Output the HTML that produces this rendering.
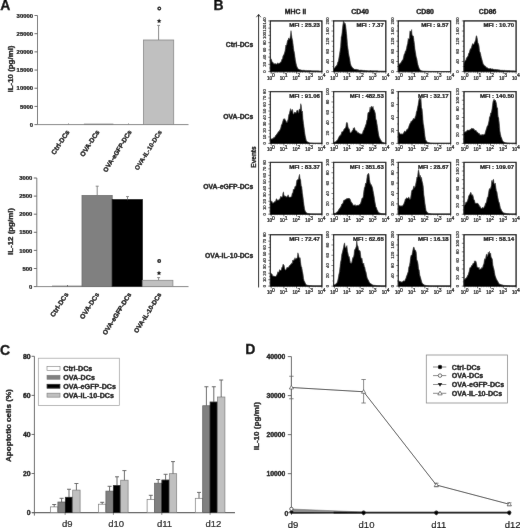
<!DOCTYPE html>
<html><head><meta charset="utf-8"><title>Figure</title>
<style>
html,body{margin:0;padding:0;background:#fff;}
body{width:520px;height:528px;overflow:hidden;font-family:"Liberation Sans",sans-serif;}
svg{display:block;}
svg text{font-family:"Liberation Sans",sans-serif;}
</style></head><body>
<svg width="520" height="528" viewBox="0 0 520 528">
<defs><filter id="soft" x="0" y="0" width="520" height="528" filterUnits="userSpaceOnUse"><feConvolveMatrix order="3" kernelMatrix="0.006 0.034 0.006 0.034 0.84 0.034 0.006 0.034 0.006" edgeMode="duplicate" preserveAlpha="true"/></filter></defs>
<rect x="0" y="0" width="520" height="528" fill="#fff"/>
<g filter="url(#soft)">
<rect x="0" y="0" width="520" height="528" fill="#fff"/>
<text x="0.20" y="10.30" font-size="14" font-weight="bold" text-anchor="start" fill="#000" stroke="#000" stroke-width="0.3" >A</text>
<line x1="37.50" y1="15.50" x2="37.50" y2="124.60" stroke="#6e6e6e" stroke-width="0.95" />
<line x1="37.50" y1="124.60" x2="188.50" y2="124.60" stroke="#7c7c7c" stroke-width="0.95" />
<line x1="34.50" y1="124.60" x2="37.50" y2="124.60" stroke="#5c5c5c" stroke-width="0.95" />
<text x="33.00" y="126.70" font-size="5.9" font-weight="bold" text-anchor="end" fill="#000" stroke="#000" stroke-width="0.22" >0</text>
<line x1="34.50" y1="106.42" x2="37.50" y2="106.42" stroke="#5c5c5c" stroke-width="0.95" />
<text x="33.00" y="108.52" font-size="5.9" font-weight="bold" text-anchor="end" fill="#000" stroke="#000" stroke-width="0.22" >5000</text>
<line x1="34.50" y1="88.23" x2="37.50" y2="88.23" stroke="#5c5c5c" stroke-width="0.95" />
<text x="33.00" y="90.33" font-size="5.9" font-weight="bold" text-anchor="end" fill="#000" stroke="#000" stroke-width="0.22" >10000</text>
<line x1="34.50" y1="70.05" x2="37.50" y2="70.05" stroke="#5c5c5c" stroke-width="0.95" />
<text x="33.00" y="72.15" font-size="5.9" font-weight="bold" text-anchor="end" fill="#000" stroke="#000" stroke-width="0.22" >15000</text>
<line x1="34.50" y1="51.87" x2="37.50" y2="51.87" stroke="#5c5c5c" stroke-width="0.95" />
<text x="33.00" y="53.97" font-size="5.9" font-weight="bold" text-anchor="end" fill="#000" stroke="#000" stroke-width="0.22" >20000</text>
<line x1="34.50" y1="33.68" x2="37.50" y2="33.68" stroke="#5c5c5c" stroke-width="0.95" />
<text x="33.00" y="35.78" font-size="5.9" font-weight="bold" text-anchor="end" fill="#000" stroke="#000" stroke-width="0.22" >25000</text>
<line x1="34.50" y1="15.50" x2="37.50" y2="15.50" stroke="#5c5c5c" stroke-width="0.95" />
<text x="33.00" y="17.60" font-size="5.9" font-weight="bold" text-anchor="end" fill="#000" stroke="#000" stroke-width="0.22" >30000</text>
<text x="13.30" y="69.00" font-size="7.9" font-weight="bold" text-anchor="middle" fill="#000" stroke="#000" stroke-width="0.3" transform="rotate(-90 13.30 69.00)" >IL-10 (pg/ml)</text>
<line x1="68.50" y1="123.40" x2="68.50" y2="124.60" stroke="#808080" stroke-width="0.9" />
<rect x="84.00" y="123.90" width="29.50" height="0.70" fill="#808080" stroke="#777" stroke-width="0.3" />
<line x1="128.50" y1="123.40" x2="128.50" y2="124.60" stroke="#808080" stroke-width="0.9" />
<rect x="143.40" y="40.00" width="30.30" height="84.60" fill="#c0c0c0" stroke="#868686" stroke-width="0.8" />
<line x1="158.60" y1="25.40" x2="158.60" y2="40.00" stroke="#808080" stroke-width="0.95" />
<line x1="157.20" y1="25.40" x2="160.00" y2="25.40" stroke="#808080" stroke-width="0.95" />
<polygon points="159.10,18.60 159.78,20.17 161.48,20.33 160.19,21.46 160.57,23.12 159.10,22.25 157.63,23.12 158.01,21.46 156.72,20.33 158.42,20.17" fill="#000"/>
<circle cx="159.3" cy="8.5" r="1.35" fill="none" stroke="#000" stroke-width="1.25"/>
<text x="69.90" y="132.00" font-size="6.8" font-weight="bold" text-anchor="end" fill="#000" stroke="#000" stroke-width="0.3" transform="rotate(-57 69.90 132.00)" >Ctrl-DCs</text>
<text x="99.90" y="132.00" font-size="6.8" font-weight="bold" text-anchor="end" fill="#000" stroke="#000" stroke-width="0.3" transform="rotate(-57 99.90 132.00)" >OVA-DCs</text>
<text x="132.00" y="132.00" font-size="6.5" font-weight="bold" text-anchor="end" fill="#000" stroke="#000" stroke-width="0.3" transform="rotate(-58 132.00 132.00)" >OVA-eGFP-DCs</text>
<text x="162.20" y="132.00" font-size="6.45" font-weight="bold" text-anchor="end" fill="#000" stroke="#000" stroke-width="0.22" transform="rotate(-58 162.20 132.00)" >OVA-IL-10-DCs</text>
<line x1="36.80" y1="178.00" x2="36.80" y2="286.60" stroke="#6e6e6e" stroke-width="0.95" />
<line x1="36.80" y1="286.60" x2="188.50" y2="286.60" stroke="#7c7c7c" stroke-width="0.95" />
<line x1="33.80" y1="286.60" x2="36.80" y2="286.60" stroke="#5c5c5c" stroke-width="0.95" />
<text x="32.30" y="288.70" font-size="5.9" font-weight="bold" text-anchor="end" fill="#000" stroke="#000" stroke-width="0.22" >0</text>
<line x1="33.80" y1="268.50" x2="36.80" y2="268.50" stroke="#5c5c5c" stroke-width="0.95" />
<text x="32.30" y="270.60" font-size="5.9" font-weight="bold" text-anchor="end" fill="#000" stroke="#000" stroke-width="0.22" >500</text>
<line x1="33.80" y1="250.40" x2="36.80" y2="250.40" stroke="#5c5c5c" stroke-width="0.95" />
<text x="32.30" y="252.50" font-size="5.9" font-weight="bold" text-anchor="end" fill="#000" stroke="#000" stroke-width="0.22" >1000</text>
<line x1="33.80" y1="232.30" x2="36.80" y2="232.30" stroke="#5c5c5c" stroke-width="0.95" />
<text x="32.30" y="234.40" font-size="5.9" font-weight="bold" text-anchor="end" fill="#000" stroke="#000" stroke-width="0.22" >1500</text>
<line x1="33.80" y1="214.20" x2="36.80" y2="214.20" stroke="#5c5c5c" stroke-width="0.95" />
<text x="32.30" y="216.30" font-size="5.9" font-weight="bold" text-anchor="end" fill="#000" stroke="#000" stroke-width="0.22" >2000</text>
<line x1="33.80" y1="196.10" x2="36.80" y2="196.10" stroke="#5c5c5c" stroke-width="0.95" />
<text x="32.30" y="198.20" font-size="5.9" font-weight="bold" text-anchor="end" fill="#000" stroke="#000" stroke-width="0.22" >2500</text>
<line x1="33.80" y1="178.00" x2="36.80" y2="178.00" stroke="#5c5c5c" stroke-width="0.95" />
<text x="32.30" y="180.10" font-size="5.9" font-weight="bold" text-anchor="end" fill="#000" stroke="#000" stroke-width="0.22" >3000</text>
<text x="13.30" y="231.50" font-size="7.9" font-weight="bold" text-anchor="middle" fill="#000" stroke="#000" stroke-width="0.3" transform="rotate(-90 13.30 231.50)" >IL-12 (pg/ml)</text>
<line x1="52.00" y1="286.00" x2="82.00" y2="286.00" stroke="#5c5c5c" stroke-width="0.6" />
<line x1="67.50" y1="285.00" x2="67.50" y2="286.60" stroke="#5c5c5c" stroke-width="0.95" />
<rect x="82.00" y="195.50" width="30.20" height="91.10" fill="#808080" stroke="#686868" stroke-width="0.8" />
<rect x="112.20" y="199.50" width="30.20" height="87.10" fill="#000" stroke="#000" stroke-width="0.8" />
<rect x="142.60" y="280.30" width="30.30" height="6.30" fill="#c0c0c0" stroke="#868686" stroke-width="0.8" />
<line x1="97.20" y1="186.20" x2="97.20" y2="195.50" stroke="#808080" stroke-width="0.95" />
<line x1="95.70" y1="186.20" x2="98.70" y2="186.20" stroke="#808080" stroke-width="0.95" />
<line x1="127.50" y1="196.60" x2="127.50" y2="199.50" stroke="#808080" stroke-width="0.95" />
<line x1="126.00" y1="196.60" x2="129.00" y2="196.60" stroke="#808080" stroke-width="0.95" />
<line x1="158.60" y1="277.60" x2="158.60" y2="280.00" stroke="#808080" stroke-width="0.95" />
<line x1="157.10" y1="277.60" x2="160.10" y2="277.60" stroke="#808080" stroke-width="0.95" />
<polygon points="159.00,270.70 159.68,272.27 161.38,272.43 160.09,273.56 160.47,275.22 159.00,274.35 157.53,275.22 157.91,273.56 156.62,272.43 158.32,272.27" fill="#000"/>
<circle cx="159.2" cy="260.9" r="1.35" fill="none" stroke="#000" stroke-width="1.25"/>
<text x="68.80" y="294.40" font-size="6.8" font-weight="bold" text-anchor="end" fill="#000" stroke="#000" stroke-width="0.3" transform="rotate(-57 68.80 294.40)" >Ctrl-DCs</text>
<text x="99.70" y="294.40" font-size="6.8" font-weight="bold" text-anchor="end" fill="#000" stroke="#000" stroke-width="0.3" transform="rotate(-57 99.70 294.40)" >OVA-DCs</text>
<text x="131.80" y="294.40" font-size="6.6" font-weight="bold" text-anchor="end" fill="#000" stroke="#000" stroke-width="0.3" transform="rotate(-58 131.80 294.40)" >OVA-eGFP-DCs</text>
<text x="161.80" y="294.40" font-size="6.5" font-weight="bold" text-anchor="end" fill="#000" stroke="#000" stroke-width="0.3" transform="rotate(-58 161.80 294.40)" >OVA-IL-10-DCs</text>
<text x="213.40" y="10.30" font-size="14" font-weight="bold" text-anchor="start" fill="#000" stroke="#000" stroke-width="0.3" >B</text>
<text x="295.50" y="14.20" font-size="6.9" font-weight="bold" text-anchor="middle" fill="#000" stroke="#000" stroke-width="0.3" >MHC II</text>
<text x="360.00" y="14.20" font-size="6.9" font-weight="bold" text-anchor="middle" fill="#000" stroke="#000" stroke-width="0.3" >CD40</text>
<text x="425.00" y="14.20" font-size="6.9" font-weight="bold" text-anchor="middle" fill="#000" stroke="#000" stroke-width="0.3" >CD80</text>
<text x="487.50" y="14.20" font-size="6.9" font-weight="bold" text-anchor="middle" fill="#000" stroke="#000" stroke-width="0.3" >CD86</text>
<text x="253.30" y="47.00" font-size="6.8" font-weight="bold" text-anchor="end" fill="#000" stroke="#000" stroke-width="0.3" >Ctrl-DCs</text>
<text x="253.30" y="118.70" font-size="6.8" font-weight="bold" text-anchor="end" fill="#000" stroke="#000" stroke-width="0.3" >OVA-DCs</text>
<text x="253.30" y="189.40" font-size="6.8" font-weight="bold" text-anchor="end" fill="#000" stroke="#000" stroke-width="0.3" >OVA-eGFP-DCs</text>
<text x="253.30" y="257.50" font-size="6.8" font-weight="bold" text-anchor="end" fill="#000" stroke="#000" stroke-width="0.3" >OVA-IL-10-DCs</text>
<line x1="258.60" y1="14.60" x2="258.60" y2="287.40" stroke="#000" stroke-width="1.0" />
<path d="M256.4 17.2 L258.6 14.3 L260.8 17.2" fill="none" stroke="#111" stroke-width="0.8"/>
<text x="255.80" y="157.00" font-size="6.5" font-weight="bold" text-anchor="middle" fill="#000" stroke="#000" stroke-width="0.3" transform="rotate(-90 255.80 157.00)" >Events</text>
<path d="M270.40 71.60 L270.40 56.95 L270.97 58.97 L271.54 59.56 L272.12 61.99 L272.69 61.88 L273.26 62.84 L273.83 63.95 L274.41 63.50 L274.98 64.10 L275.55 63.51 L276.12 63.97 L276.69 63.90 L277.27 63.39 L277.84 62.77 L278.41 63.72 L278.98 63.54 L279.56 62.91 L280.13 62.40 L280.70 62.08 L281.27 61.45 L281.84 59.25 L282.42 59.36 L282.99 55.62 L283.56 55.31 L284.13 53.86 L284.71 51.98 L285.28 49.28 L285.85 45.09 L286.42 46.07 L286.99 42.40 L287.57 40.26 L288.14 40.08 L288.71 37.86 L289.28 39.43 L289.86 38.28 L290.43 35.67 L291.00 30.63 L291.57 34.81 L292.14 38.26 L292.72 40.85 L293.29 45.60 L293.86 50.15 L294.43 52.41 L295.01 56.75 L295.58 60.99 L296.15 63.55 L296.72 65.89 L297.29 67.22 L297.87 68.55 L298.44 69.04 L299.01 69.03 L299.58 69.64 L300.16 69.81 L300.73 69.82 L301.30 70.06 L301.87 70.04 L302.44 70.22 L303.02 70.13 L303.59 70.18 L304.16 70.30 L304.73 70.28 L305.31 70.42 L305.88 70.38 L306.45 70.42 L307.02 70.46 L307.59 70.51 L308.17 70.46 L308.74 70.48 L309.31 70.59 L309.88 70.58 L310.46 70.59 L311.03 70.62 L311.60 70.65 L312.17 70.66 L312.74 70.68 L313.32 70.70 L313.89 70.72 L314.46 70.73 L315.03 70.75 L315.61 70.77 L316.18 70.79 L316.75 70.81 L317.32 70.82 L317.89 70.84 L318.47 70.86 L319.04 70.88 L319.61 70.89 L320.18 70.91 L320.76 70.93 L321.33 70.95 L321.90 70.96 L321.90 71.60 Z" fill="#000" stroke="#000" stroke-width="0.4" stroke-linejoin="round"/>
<rect x="270.40" y="20.90" width="51.50" height="50.70" fill="none" stroke="#000" stroke-width="1.25" />
<line x1="271.20" y1="71.60" x2="271.20" y2="73.80" stroke="#000" stroke-width="0.6" />
<text x="271.00" y="79.50" font-size="4.5" text-anchor="middle" fill="#000" stroke="#000" stroke-width="0.22">10<tspan dy="-2.4" font-size="5">0</tspan></text>
<line x1="283.88" y1="71.60" x2="283.88" y2="73.80" stroke="#000" stroke-width="0.6" />
<text x="283.68" y="79.50" font-size="4.5" text-anchor="middle" fill="#000" stroke="#000" stroke-width="0.22">10<tspan dy="-2.4" font-size="5">1</tspan></text>
<line x1="296.55" y1="71.60" x2="296.55" y2="73.80" stroke="#000" stroke-width="0.6" />
<text x="296.35" y="79.50" font-size="4.5" text-anchor="middle" fill="#000" stroke="#000" stroke-width="0.22">10<tspan dy="-2.4" font-size="5">2</tspan></text>
<line x1="309.23" y1="71.60" x2="309.23" y2="73.80" stroke="#000" stroke-width="0.6" />
<text x="309.03" y="79.50" font-size="4.5" text-anchor="middle" fill="#000" stroke="#000" stroke-width="0.22">10<tspan dy="-2.4" font-size="5">3</tspan></text>
<line x1="321.90" y1="71.60" x2="321.90" y2="73.80" stroke="#000" stroke-width="0.6" />
<text x="321.70" y="79.50" font-size="4.5" text-anchor="middle" fill="#000" stroke="#000" stroke-width="0.22">10<tspan dy="-2.4" font-size="5">4</tspan></text>
<line x1="275.02" y1="71.60" x2="275.02" y2="72.80" stroke="#000" stroke-width="0.35" />
<line x1="277.25" y1="71.60" x2="277.25" y2="72.80" stroke="#000" stroke-width="0.35" />
<line x1="280.06" y1="71.60" x2="280.06" y2="72.80" stroke="#000" stroke-width="0.35" />
<line x1="281.91" y1="71.60" x2="281.91" y2="72.80" stroke="#000" stroke-width="0.35" />
<line x1="287.69" y1="71.60" x2="287.69" y2="72.80" stroke="#000" stroke-width="0.35" />
<line x1="289.92" y1="71.60" x2="289.92" y2="72.80" stroke="#000" stroke-width="0.35" />
<line x1="292.73" y1="71.60" x2="292.73" y2="72.80" stroke="#000" stroke-width="0.35" />
<line x1="294.59" y1="71.60" x2="294.59" y2="72.80" stroke="#000" stroke-width="0.35" />
<line x1="300.37" y1="71.60" x2="300.37" y2="72.80" stroke="#000" stroke-width="0.35" />
<line x1="302.60" y1="71.60" x2="302.60" y2="72.80" stroke="#000" stroke-width="0.35" />
<line x1="305.41" y1="71.60" x2="305.41" y2="72.80" stroke="#000" stroke-width="0.35" />
<line x1="307.26" y1="71.60" x2="307.26" y2="72.80" stroke="#000" stroke-width="0.35" />
<line x1="313.04" y1="71.60" x2="313.04" y2="72.80" stroke="#000" stroke-width="0.35" />
<line x1="315.27" y1="71.60" x2="315.27" y2="72.80" stroke="#000" stroke-width="0.35" />
<line x1="318.08" y1="71.60" x2="318.08" y2="72.80" stroke="#000" stroke-width="0.35" />
<line x1="319.94" y1="71.60" x2="319.94" y2="72.80" stroke="#000" stroke-width="0.35" />
<line x1="268.20" y1="71.60" x2="270.40" y2="71.60" stroke="#000" stroke-width="0.5" />
<text x="265.70" y="71.60" font-size="4.3" fill="#000" stroke="#000" stroke-width="0.15" text-anchor="middle" transform="rotate(-90 265.70 71.60)">0</text>
<line x1="268.20" y1="64.36" x2="270.40" y2="64.36" stroke="#000" stroke-width="0.5" />
<text x="265.70" y="64.36" font-size="4.3" fill="#000" stroke="#000" stroke-width="0.15" text-anchor="middle" transform="rotate(-90 265.70 64.36)">20</text>
<line x1="268.20" y1="57.11" x2="270.40" y2="57.11" stroke="#000" stroke-width="0.5" />
<text x="265.70" y="57.11" font-size="4.3" fill="#000" stroke="#000" stroke-width="0.15" text-anchor="middle" transform="rotate(-90 265.70 57.11)">40</text>
<line x1="268.20" y1="49.87" x2="270.40" y2="49.87" stroke="#000" stroke-width="0.5" />
<text x="265.70" y="49.87" font-size="4.3" fill="#000" stroke="#000" stroke-width="0.15" text-anchor="middle" transform="rotate(-90 265.70 49.87)">60</text>
<line x1="268.20" y1="42.63" x2="270.40" y2="42.63" stroke="#000" stroke-width="0.5" />
<text x="265.70" y="42.63" font-size="4.3" fill="#000" stroke="#000" stroke-width="0.15" text-anchor="middle" transform="rotate(-90 265.70 42.63)">80</text>
<line x1="268.20" y1="35.39" x2="270.40" y2="35.39" stroke="#000" stroke-width="0.5" />
<text x="265.70" y="35.39" font-size="4.3" fill="#000" stroke="#000" stroke-width="0.15" text-anchor="middle" transform="rotate(-90 265.70 35.39)">100</text>
<line x1="268.20" y1="28.14" x2="270.40" y2="28.14" stroke="#000" stroke-width="0.5" />
<text x="265.70" y="28.14" font-size="4.3" fill="#000" stroke="#000" stroke-width="0.15" text-anchor="middle" transform="rotate(-90 265.70 28.14)">120</text>
<line x1="268.20" y1="20.90" x2="270.40" y2="20.90" stroke="#000" stroke-width="0.5" />
<text x="265.70" y="20.90" font-size="4.3" fill="#000" stroke="#000" stroke-width="0.15" text-anchor="middle" transform="rotate(-90 265.70 20.90)">140</text>
<line x1="269.10" y1="67.98" x2="270.40" y2="67.98" stroke="#000" stroke-width="0.4" />
<line x1="269.10" y1="60.74" x2="270.40" y2="60.74" stroke="#000" stroke-width="0.4" />
<line x1="269.10" y1="53.49" x2="270.40" y2="53.49" stroke="#000" stroke-width="0.4" />
<line x1="269.10" y1="46.25" x2="270.40" y2="46.25" stroke="#000" stroke-width="0.4" />
<line x1="269.10" y1="39.01" x2="270.40" y2="39.01" stroke="#000" stroke-width="0.4" />
<line x1="269.10" y1="31.76" x2="270.40" y2="31.76" stroke="#000" stroke-width="0.4" />
<line x1="269.10" y1="24.52" x2="270.40" y2="24.52" stroke="#000" stroke-width="0.4" />
<text x="319.90" y="27.30" font-size="6.0" font-weight="bold" text-anchor="end" fill="#000" stroke="#000" stroke-width="0.22" >MFI : 25.23</text>
<path d="M333.60 71.60 L333.60 69.27 L334.18 68.42 L334.76 67.87 L335.34 66.92 L335.92 66.01 L336.50 65.55 L337.08 64.48 L337.66 62.23 L338.24 61.16 L338.82 58.10 L339.40 54.72 L339.98 50.86 L340.56 46.65 L341.14 37.19 L341.72 35.14 L342.30 29.67 L342.88 24.50 L343.46 20.90 L344.04 24.82 L344.62 22.53 L345.20 23.33 L345.78 25.70 L346.36 31.37 L346.94 36.62 L347.52 44.90 L348.10 48.89 L348.68 53.47 L349.26 56.60 L349.84 59.23 L350.42 63.25 L351.00 65.25 L351.58 66.26 L352.16 67.33 L352.74 67.83 L353.32 68.19 L353.90 68.78 L354.48 69.29 L355.06 69.23 L355.64 69.36 L356.22 69.39 L356.80 69.37 L357.38 69.58 L357.96 69.75 L358.54 69.83 L359.12 69.93 L359.70 70.20 L360.28 70.03 L360.86 70.10 L361.44 70.11 L362.02 70.17 L362.60 70.30 L363.18 70.34 L363.76 70.43 L364.34 70.36 L364.92 70.51 L365.50 70.55 L366.08 70.55 L366.66 70.58 L367.24 70.57 L367.82 70.64 L368.40 70.67 L368.98 70.66 L369.56 70.69 L370.14 70.60 L370.72 70.62 L371.30 70.65 L371.88 70.67 L372.46 70.69 L373.04 70.71 L373.62 70.74 L374.20 70.76 L374.78 70.78 L375.36 70.81 L375.94 70.82 L376.52 70.83 L377.10 70.85 L377.68 70.86 L378.26 70.88 L378.84 70.89 L379.42 70.91 L380.00 70.92 L380.58 70.94 L381.16 70.95 L381.74 70.97 L382.32 70.98 L382.90 71.00 L383.48 71.01 L384.06 71.03 L384.64 71.04 L385.22 71.06 L385.80 71.07 L385.80 71.60 Z" fill="#000" stroke="#000" stroke-width="0.4" stroke-linejoin="round"/>
<rect x="333.60" y="20.90" width="52.20" height="50.70" fill="none" stroke="#000" stroke-width="1.25" />
<line x1="334.40" y1="71.60" x2="334.40" y2="73.80" stroke="#000" stroke-width="0.6" />
<text x="334.20" y="79.50" font-size="4.5" text-anchor="middle" fill="#000" stroke="#000" stroke-width="0.22">10<tspan dy="-2.4" font-size="5">0</tspan></text>
<line x1="347.25" y1="71.60" x2="347.25" y2="73.80" stroke="#000" stroke-width="0.6" />
<text x="347.05" y="79.50" font-size="4.5" text-anchor="middle" fill="#000" stroke="#000" stroke-width="0.22">10<tspan dy="-2.4" font-size="5">1</tspan></text>
<line x1="360.10" y1="71.60" x2="360.10" y2="73.80" stroke="#000" stroke-width="0.6" />
<text x="359.90" y="79.50" font-size="4.5" text-anchor="middle" fill="#000" stroke="#000" stroke-width="0.22">10<tspan dy="-2.4" font-size="5">2</tspan></text>
<line x1="372.95" y1="71.60" x2="372.95" y2="73.80" stroke="#000" stroke-width="0.6" />
<text x="372.75" y="79.50" font-size="4.5" text-anchor="middle" fill="#000" stroke="#000" stroke-width="0.22">10<tspan dy="-2.4" font-size="5">3</tspan></text>
<line x1="385.80" y1="71.60" x2="385.80" y2="73.80" stroke="#000" stroke-width="0.6" />
<text x="385.60" y="79.50" font-size="4.5" text-anchor="middle" fill="#000" stroke="#000" stroke-width="0.22">10<tspan dy="-2.4" font-size="5">4</tspan></text>
<line x1="338.27" y1="71.60" x2="338.27" y2="72.80" stroke="#000" stroke-width="0.35" />
<line x1="340.53" y1="71.60" x2="340.53" y2="72.80" stroke="#000" stroke-width="0.35" />
<line x1="343.38" y1="71.60" x2="343.38" y2="72.80" stroke="#000" stroke-width="0.35" />
<line x1="345.26" y1="71.60" x2="345.26" y2="72.80" stroke="#000" stroke-width="0.35" />
<line x1="351.12" y1="71.60" x2="351.12" y2="72.80" stroke="#000" stroke-width="0.35" />
<line x1="353.38" y1="71.60" x2="353.38" y2="72.80" stroke="#000" stroke-width="0.35" />
<line x1="356.23" y1="71.60" x2="356.23" y2="72.80" stroke="#000" stroke-width="0.35" />
<line x1="358.11" y1="71.60" x2="358.11" y2="72.80" stroke="#000" stroke-width="0.35" />
<line x1="363.97" y1="71.60" x2="363.97" y2="72.80" stroke="#000" stroke-width="0.35" />
<line x1="366.23" y1="71.60" x2="366.23" y2="72.80" stroke="#000" stroke-width="0.35" />
<line x1="369.08" y1="71.60" x2="369.08" y2="72.80" stroke="#000" stroke-width="0.35" />
<line x1="370.96" y1="71.60" x2="370.96" y2="72.80" stroke="#000" stroke-width="0.35" />
<line x1="376.82" y1="71.60" x2="376.82" y2="72.80" stroke="#000" stroke-width="0.35" />
<line x1="379.08" y1="71.60" x2="379.08" y2="72.80" stroke="#000" stroke-width="0.35" />
<line x1="381.93" y1="71.60" x2="381.93" y2="72.80" stroke="#000" stroke-width="0.35" />
<line x1="383.81" y1="71.60" x2="383.81" y2="72.80" stroke="#000" stroke-width="0.35" />
<line x1="331.40" y1="71.60" x2="333.60" y2="71.60" stroke="#000" stroke-width="0.5" />
<text x="328.90" y="71.60" font-size="4.3" fill="#000" stroke="#000" stroke-width="0.15" text-anchor="middle" transform="rotate(-90 328.90 71.60)">0</text>
<line x1="331.40" y1="61.46" x2="333.60" y2="61.46" stroke="#000" stroke-width="0.5" />
<text x="328.90" y="61.46" font-size="4.3" fill="#000" stroke="#000" stroke-width="0.15" text-anchor="middle" transform="rotate(-90 328.90 61.46)">40</text>
<line x1="331.40" y1="51.32" x2="333.60" y2="51.32" stroke="#000" stroke-width="0.5" />
<text x="328.90" y="51.32" font-size="4.3" fill="#000" stroke="#000" stroke-width="0.15" text-anchor="middle" transform="rotate(-90 328.90 51.32)">80</text>
<line x1="331.40" y1="41.18" x2="333.60" y2="41.18" stroke="#000" stroke-width="0.5" />
<text x="328.90" y="41.18" font-size="4.3" fill="#000" stroke="#000" stroke-width="0.15" text-anchor="middle" transform="rotate(-90 328.90 41.18)">120</text>
<line x1="331.40" y1="31.04" x2="333.60" y2="31.04" stroke="#000" stroke-width="0.5" />
<text x="328.90" y="31.04" font-size="4.3" fill="#000" stroke="#000" stroke-width="0.15" text-anchor="middle" transform="rotate(-90 328.90 31.04)">160</text>
<line x1="331.40" y1="20.90" x2="333.60" y2="20.90" stroke="#000" stroke-width="0.5" />
<text x="328.90" y="20.90" font-size="4.3" fill="#000" stroke="#000" stroke-width="0.15" text-anchor="middle" transform="rotate(-90 328.90 20.90)">200</text>
<line x1="332.30" y1="66.53" x2="333.60" y2="66.53" stroke="#000" stroke-width="0.4" />
<line x1="332.30" y1="56.39" x2="333.60" y2="56.39" stroke="#000" stroke-width="0.4" />
<line x1="332.30" y1="46.25" x2="333.60" y2="46.25" stroke="#000" stroke-width="0.4" />
<line x1="332.30" y1="36.11" x2="333.60" y2="36.11" stroke="#000" stroke-width="0.4" />
<line x1="332.30" y1="25.97" x2="333.60" y2="25.97" stroke="#000" stroke-width="0.4" />
<text x="383.80" y="27.30" font-size="6.0" font-weight="bold" text-anchor="end" fill="#000" stroke="#000" stroke-width="0.22" >MFI : 7.37</text>
<path d="M398.30 71.60 L398.30 65.70 L398.88 65.44 L399.46 63.79 L400.04 63.36 L400.62 63.09 L401.21 62.01 L401.79 60.92 L402.37 59.95 L402.95 59.54 L403.53 56.95 L404.11 54.25 L404.69 53.50 L405.27 51.27 L405.85 50.61 L406.44 48.49 L407.02 45.30 L407.60 43.51 L408.18 38.37 L408.76 39.80 L409.34 38.63 L409.92 30.74 L410.50 31.31 L411.08 31.89 L411.67 29.50 L412.25 35.88 L412.83 35.60 L413.41 36.11 L413.99 40.21 L414.57 44.76 L415.15 50.12 L415.73 53.25 L416.31 57.06 L416.90 58.66 L417.48 62.19 L418.06 64.86 L418.64 66.77 L419.22 68.27 L419.80 69.47 L420.38 70.12 L420.96 70.39 L421.54 70.63 L422.13 70.87 L422.71 70.98 L423.29 71.01 L423.87 71.04 L424.45 71.07 L425.03 71.10 L425.61 71.13 L426.19 71.16 L426.77 71.19 L427.36 71.22 L427.94 71.25 L428.52 71.28 L429.10 71.31 L429.68 71.34 L430.26 71.34 L430.84 71.35 L431.42 71.36 L432.00 71.36 L432.59 71.37 L433.17 71.38 L433.75 71.39 L434.33 71.39 L434.91 71.40 L435.49 71.41 L436.07 71.42 L436.65 71.42 L437.23 71.43 L437.82 71.44 L438.40 71.45 L438.98 71.45 L439.56 71.46 L440.14 71.47 L440.72 71.47 L441.30 71.48 L441.88 71.49 L442.46 71.50 L443.05 71.50 L443.63 71.51 L444.21 71.52 L444.79 71.53 L445.37 71.53 L445.95 71.54 L446.53 71.55 L447.11 71.56 L447.69 71.56 L448.28 71.57 L448.86 71.58 L449.44 71.59 L450.02 71.59 L450.60 71.60 L450.60 71.60 Z" fill="#000" stroke="#000" stroke-width="0.4" stroke-linejoin="round"/>
<rect x="398.30" y="20.90" width="52.30" height="50.70" fill="none" stroke="#000" stroke-width="1.25" />
<line x1="399.10" y1="71.60" x2="399.10" y2="73.80" stroke="#000" stroke-width="0.6" />
<text x="398.90" y="79.50" font-size="4.5" text-anchor="middle" fill="#000" stroke="#000" stroke-width="0.22">10<tspan dy="-2.4" font-size="5">0</tspan></text>
<line x1="411.98" y1="71.60" x2="411.98" y2="73.80" stroke="#000" stroke-width="0.6" />
<text x="411.78" y="79.50" font-size="4.5" text-anchor="middle" fill="#000" stroke="#000" stroke-width="0.22">10<tspan dy="-2.4" font-size="5">1</tspan></text>
<line x1="424.85" y1="71.60" x2="424.85" y2="73.80" stroke="#000" stroke-width="0.6" />
<text x="424.65" y="79.50" font-size="4.5" text-anchor="middle" fill="#000" stroke="#000" stroke-width="0.22">10<tspan dy="-2.4" font-size="5">2</tspan></text>
<line x1="437.73" y1="71.60" x2="437.73" y2="73.80" stroke="#000" stroke-width="0.6" />
<text x="437.53" y="79.50" font-size="4.5" text-anchor="middle" fill="#000" stroke="#000" stroke-width="0.22">10<tspan dy="-2.4" font-size="5">3</tspan></text>
<line x1="450.60" y1="71.60" x2="450.60" y2="73.80" stroke="#000" stroke-width="0.6" />
<text x="450.40" y="79.50" font-size="4.5" text-anchor="middle" fill="#000" stroke="#000" stroke-width="0.22">10<tspan dy="-2.4" font-size="5">4</tspan></text>
<line x1="402.98" y1="71.60" x2="402.98" y2="72.80" stroke="#000" stroke-width="0.35" />
<line x1="405.24" y1="71.60" x2="405.24" y2="72.80" stroke="#000" stroke-width="0.35" />
<line x1="408.10" y1="71.60" x2="408.10" y2="72.80" stroke="#000" stroke-width="0.35" />
<line x1="409.98" y1="71.60" x2="409.98" y2="72.80" stroke="#000" stroke-width="0.35" />
<line x1="415.85" y1="71.60" x2="415.85" y2="72.80" stroke="#000" stroke-width="0.35" />
<line x1="418.12" y1="71.60" x2="418.12" y2="72.80" stroke="#000" stroke-width="0.35" />
<line x1="420.97" y1="71.60" x2="420.97" y2="72.80" stroke="#000" stroke-width="0.35" />
<line x1="422.86" y1="71.60" x2="422.86" y2="72.80" stroke="#000" stroke-width="0.35" />
<line x1="428.73" y1="71.60" x2="428.73" y2="72.80" stroke="#000" stroke-width="0.35" />
<line x1="430.99" y1="71.60" x2="430.99" y2="72.80" stroke="#000" stroke-width="0.35" />
<line x1="433.85" y1="71.60" x2="433.85" y2="72.80" stroke="#000" stroke-width="0.35" />
<line x1="435.73" y1="71.60" x2="435.73" y2="72.80" stroke="#000" stroke-width="0.35" />
<line x1="441.60" y1="71.60" x2="441.60" y2="72.80" stroke="#000" stroke-width="0.35" />
<line x1="443.87" y1="71.60" x2="443.87" y2="72.80" stroke="#000" stroke-width="0.35" />
<line x1="446.72" y1="71.60" x2="446.72" y2="72.80" stroke="#000" stroke-width="0.35" />
<line x1="448.61" y1="71.60" x2="448.61" y2="72.80" stroke="#000" stroke-width="0.35" />
<line x1="396.10" y1="71.60" x2="398.30" y2="71.60" stroke="#000" stroke-width="0.5" />
<text x="393.60" y="71.60" font-size="4.3" fill="#000" stroke="#000" stroke-width="0.15" text-anchor="middle" transform="rotate(-90 393.60 71.60)">0</text>
<line x1="396.10" y1="61.46" x2="398.30" y2="61.46" stroke="#000" stroke-width="0.5" />
<text x="393.60" y="61.46" font-size="4.3" fill="#000" stroke="#000" stroke-width="0.15" text-anchor="middle" transform="rotate(-90 393.60 61.46)">40</text>
<line x1="396.10" y1="51.32" x2="398.30" y2="51.32" stroke="#000" stroke-width="0.5" />
<text x="393.60" y="51.32" font-size="4.3" fill="#000" stroke="#000" stroke-width="0.15" text-anchor="middle" transform="rotate(-90 393.60 51.32)">80</text>
<line x1="396.10" y1="41.18" x2="398.30" y2="41.18" stroke="#000" stroke-width="0.5" />
<text x="393.60" y="41.18" font-size="4.3" fill="#000" stroke="#000" stroke-width="0.15" text-anchor="middle" transform="rotate(-90 393.60 41.18)">120</text>
<line x1="396.10" y1="31.04" x2="398.30" y2="31.04" stroke="#000" stroke-width="0.5" />
<text x="393.60" y="31.04" font-size="4.3" fill="#000" stroke="#000" stroke-width="0.15" text-anchor="middle" transform="rotate(-90 393.60 31.04)">160</text>
<line x1="396.10" y1="20.90" x2="398.30" y2="20.90" stroke="#000" stroke-width="0.5" />
<text x="393.60" y="20.90" font-size="4.3" fill="#000" stroke="#000" stroke-width="0.15" text-anchor="middle" transform="rotate(-90 393.60 20.90)">200</text>
<line x1="397.00" y1="66.53" x2="398.30" y2="66.53" stroke="#000" stroke-width="0.4" />
<line x1="397.00" y1="56.39" x2="398.30" y2="56.39" stroke="#000" stroke-width="0.4" />
<line x1="397.00" y1="46.25" x2="398.30" y2="46.25" stroke="#000" stroke-width="0.4" />
<line x1="397.00" y1="36.11" x2="398.30" y2="36.11" stroke="#000" stroke-width="0.4" />
<line x1="397.00" y1="25.97" x2="398.30" y2="25.97" stroke="#000" stroke-width="0.4" />
<text x="448.60" y="27.30" font-size="6.0" font-weight="bold" text-anchor="end" fill="#000" stroke="#000" stroke-width="0.22" >MFI : 9.57</text>
<path d="M464.00 71.60 L464.00 63.66 L464.58 62.17 L465.16 60.83 L465.74 60.35 L466.32 58.33 L466.89 57.29 L467.47 56.77 L468.05 55.45 L468.63 53.32 L469.21 52.57 L469.79 50.32 L470.37 48.56 L470.95 49.62 L471.53 46.67 L472.10 44.93 L472.68 43.53 L473.26 44.72 L473.84 44.02 L474.42 42.54 L475.00 41.26 L475.58 39.78 L476.16 35.86 L476.74 35.89 L477.31 38.45 L477.89 42.45 L478.47 43.74 L479.05 45.70 L479.63 51.32 L480.21 52.14 L480.79 54.40 L481.37 57.36 L481.95 59.19 L482.52 61.40 L483.10 63.51 L483.68 64.39 L484.26 65.61 L484.84 65.63 L485.42 65.99 L486.00 66.96 L486.58 67.43 L487.16 67.55 L487.73 68.00 L488.31 68.43 L488.89 68.56 L489.47 68.65 L490.05 68.37 L490.63 68.54 L491.21 68.97 L491.79 68.77 L492.37 68.82 L492.94 69.05 L493.52 69.26 L494.10 69.25 L494.68 69.48 L495.26 69.60 L495.84 69.33 L496.42 69.52 L497.00 69.63 L497.58 69.58 L498.15 69.81 L498.73 69.76 L499.31 69.85 L499.89 70.09 L500.47 70.15 L501.05 70.18 L501.63 70.23 L502.21 70.18 L502.79 70.29 L503.36 70.29 L503.94 70.39 L504.52 70.26 L505.10 70.42 L505.68 70.43 L506.26 70.45 L506.84 70.43 L507.42 70.55 L508.00 70.50 L508.57 70.61 L509.15 70.59 L509.73 70.62 L510.31 70.65 L510.89 70.68 L511.47 70.71 L512.05 70.74 L512.63 70.78 L513.21 70.81 L513.78 70.84 L514.36 70.87 L514.94 70.90 L515.52 70.93 L516.10 70.96 L516.10 71.60 Z" fill="#000" stroke="#000" stroke-width="0.4" stroke-linejoin="round"/>
<rect x="464.00" y="20.90" width="52.10" height="50.70" fill="none" stroke="#000" stroke-width="1.25" />
<line x1="464.80" y1="71.60" x2="464.80" y2="73.80" stroke="#000" stroke-width="0.6" />
<text x="464.60" y="79.50" font-size="4.5" text-anchor="middle" fill="#000" stroke="#000" stroke-width="0.22">10<tspan dy="-2.4" font-size="5">0</tspan></text>
<line x1="477.62" y1="71.60" x2="477.62" y2="73.80" stroke="#000" stroke-width="0.6" />
<text x="477.43" y="79.50" font-size="4.5" text-anchor="middle" fill="#000" stroke="#000" stroke-width="0.22">10<tspan dy="-2.4" font-size="5">1</tspan></text>
<line x1="490.45" y1="71.60" x2="490.45" y2="73.80" stroke="#000" stroke-width="0.6" />
<text x="490.25" y="79.50" font-size="4.5" text-anchor="middle" fill="#000" stroke="#000" stroke-width="0.22">10<tspan dy="-2.4" font-size="5">2</tspan></text>
<line x1="503.28" y1="71.60" x2="503.28" y2="73.80" stroke="#000" stroke-width="0.6" />
<text x="503.08" y="79.50" font-size="4.5" text-anchor="middle" fill="#000" stroke="#000" stroke-width="0.22">10<tspan dy="-2.4" font-size="5">3</tspan></text>
<line x1="516.10" y1="71.60" x2="516.10" y2="73.80" stroke="#000" stroke-width="0.6" />
<text x="515.90" y="79.50" font-size="4.5" text-anchor="middle" fill="#000" stroke="#000" stroke-width="0.22">10<tspan dy="-2.4" font-size="5">4</tspan></text>
<line x1="468.66" y1="71.60" x2="468.66" y2="72.80" stroke="#000" stroke-width="0.35" />
<line x1="470.92" y1="71.60" x2="470.92" y2="72.80" stroke="#000" stroke-width="0.35" />
<line x1="473.76" y1="71.60" x2="473.76" y2="72.80" stroke="#000" stroke-width="0.35" />
<line x1="475.64" y1="71.60" x2="475.64" y2="72.80" stroke="#000" stroke-width="0.35" />
<line x1="481.49" y1="71.60" x2="481.49" y2="72.80" stroke="#000" stroke-width="0.35" />
<line x1="483.74" y1="71.60" x2="483.74" y2="72.80" stroke="#000" stroke-width="0.35" />
<line x1="486.59" y1="71.60" x2="486.59" y2="72.80" stroke="#000" stroke-width="0.35" />
<line x1="488.46" y1="71.60" x2="488.46" y2="72.80" stroke="#000" stroke-width="0.35" />
<line x1="494.31" y1="71.60" x2="494.31" y2="72.80" stroke="#000" stroke-width="0.35" />
<line x1="496.57" y1="71.60" x2="496.57" y2="72.80" stroke="#000" stroke-width="0.35" />
<line x1="499.41" y1="71.60" x2="499.41" y2="72.80" stroke="#000" stroke-width="0.35" />
<line x1="501.29" y1="71.60" x2="501.29" y2="72.80" stroke="#000" stroke-width="0.35" />
<line x1="507.14" y1="71.60" x2="507.14" y2="72.80" stroke="#000" stroke-width="0.35" />
<line x1="509.39" y1="71.60" x2="509.39" y2="72.80" stroke="#000" stroke-width="0.35" />
<line x1="512.24" y1="71.60" x2="512.24" y2="72.80" stroke="#000" stroke-width="0.35" />
<line x1="514.11" y1="71.60" x2="514.11" y2="72.80" stroke="#000" stroke-width="0.35" />
<line x1="461.80" y1="71.60" x2="464.00" y2="71.60" stroke="#000" stroke-width="0.5" />
<text x="459.30" y="71.60" font-size="4.3" fill="#000" stroke="#000" stroke-width="0.15" text-anchor="middle" transform="rotate(-90 459.30 71.60)">0</text>
<line x1="461.80" y1="61.46" x2="464.00" y2="61.46" stroke="#000" stroke-width="0.5" />
<text x="459.30" y="61.46" font-size="4.3" fill="#000" stroke="#000" stroke-width="0.15" text-anchor="middle" transform="rotate(-90 459.30 61.46)">40</text>
<line x1="461.80" y1="51.32" x2="464.00" y2="51.32" stroke="#000" stroke-width="0.5" />
<text x="459.30" y="51.32" font-size="4.3" fill="#000" stroke="#000" stroke-width="0.15" text-anchor="middle" transform="rotate(-90 459.30 51.32)">80</text>
<line x1="461.80" y1="41.18" x2="464.00" y2="41.18" stroke="#000" stroke-width="0.5" />
<text x="459.30" y="41.18" font-size="4.3" fill="#000" stroke="#000" stroke-width="0.15" text-anchor="middle" transform="rotate(-90 459.30 41.18)">120</text>
<line x1="461.80" y1="31.04" x2="464.00" y2="31.04" stroke="#000" stroke-width="0.5" />
<text x="459.30" y="31.04" font-size="4.3" fill="#000" stroke="#000" stroke-width="0.15" text-anchor="middle" transform="rotate(-90 459.30 31.04)">160</text>
<line x1="461.80" y1="20.90" x2="464.00" y2="20.90" stroke="#000" stroke-width="0.5" />
<text x="459.30" y="20.90" font-size="4.3" fill="#000" stroke="#000" stroke-width="0.15" text-anchor="middle" transform="rotate(-90 459.30 20.90)">200</text>
<line x1="462.70" y1="66.53" x2="464.00" y2="66.53" stroke="#000" stroke-width="0.4" />
<line x1="462.70" y1="56.39" x2="464.00" y2="56.39" stroke="#000" stroke-width="0.4" />
<line x1="462.70" y1="46.25" x2="464.00" y2="46.25" stroke="#000" stroke-width="0.4" />
<line x1="462.70" y1="36.11" x2="464.00" y2="36.11" stroke="#000" stroke-width="0.4" />
<line x1="462.70" y1="25.97" x2="464.00" y2="25.97" stroke="#000" stroke-width="0.4" />
<text x="514.10" y="27.30" font-size="6.0" font-weight="bold" text-anchor="end" fill="#000" stroke="#000" stroke-width="0.22" >MFI : 10.70</text>
<path d="M270.40 143.40 L270.40 138.23 L270.97 138.43 L271.54 139.02 L272.12 138.72 L272.69 138.60 L273.26 138.44 L273.83 137.35 L274.41 137.63 L274.98 136.59 L275.55 135.44 L276.12 134.82 L276.69 134.34 L277.27 133.27 L277.84 132.52 L278.41 131.39 L278.98 132.07 L279.56 129.99 L280.13 129.41 L280.70 128.06 L281.27 125.08 L281.84 124.29 L282.42 122.53 L282.99 120.43 L283.56 118.79 L284.13 119.61 L284.71 118.55 L285.28 119.87 L285.85 120.73 L286.42 121.66 L286.99 123.33 L287.57 120.85 L288.14 118.87 L288.71 114.75 L289.28 113.87 L289.86 110.99 L290.43 108.61 L291.00 111.60 L291.57 110.57 L292.14 109.15 L292.72 110.38 L293.29 114.28 L293.86 113.99 L294.43 111.90 L295.01 113.50 L295.58 112.21 L296.15 113.43 L296.72 110.60 L297.29 110.40 L297.87 110.23 L298.44 113.91 L299.01 109.76 L299.58 108.90 L300.16 110.18 L300.73 103.65 L301.30 105.43 L301.87 112.33 L302.44 111.11 L303.02 118.88 L303.59 123.75 L304.16 127.77 L304.73 132.12 L305.31 135.94 L305.88 138.32 L306.45 141.03 L307.02 141.43 L307.59 141.81 L308.17 142.10 L308.74 142.37 L309.31 142.71 L309.88 142.90 L310.46 142.97 L311.03 143.03 L311.60 143.10 L312.17 143.17 L312.74 143.23 L313.32 143.30 L313.89 143.37 L314.46 143.40 L315.03 143.40 L315.61 143.40 L316.18 143.40 L316.75 143.40 L317.32 143.40 L317.89 143.40 L318.47 143.40 L319.04 143.40 L319.61 143.40 L320.18 143.40 L320.76 143.40 L321.33 143.40 L321.90 143.40 L321.90 143.40 Z" fill="#000" stroke="#000" stroke-width="0.4" stroke-linejoin="round"/>
<rect x="270.40" y="91.60" width="51.50" height="51.80" fill="none" stroke="#000" stroke-width="1.25" />
<line x1="271.20" y1="143.40" x2="271.20" y2="145.60" stroke="#000" stroke-width="0.6" />
<text x="271.00" y="151.30" font-size="4.5" text-anchor="middle" fill="#000" stroke="#000" stroke-width="0.22">10<tspan dy="-2.4" font-size="5">0</tspan></text>
<line x1="283.88" y1="143.40" x2="283.88" y2="145.60" stroke="#000" stroke-width="0.6" />
<text x="283.68" y="151.30" font-size="4.5" text-anchor="middle" fill="#000" stroke="#000" stroke-width="0.22">10<tspan dy="-2.4" font-size="5">1</tspan></text>
<line x1="296.55" y1="143.40" x2="296.55" y2="145.60" stroke="#000" stroke-width="0.6" />
<text x="296.35" y="151.30" font-size="4.5" text-anchor="middle" fill="#000" stroke="#000" stroke-width="0.22">10<tspan dy="-2.4" font-size="5">2</tspan></text>
<line x1="309.23" y1="143.40" x2="309.23" y2="145.60" stroke="#000" stroke-width="0.6" />
<text x="309.03" y="151.30" font-size="4.5" text-anchor="middle" fill="#000" stroke="#000" stroke-width="0.22">10<tspan dy="-2.4" font-size="5">3</tspan></text>
<line x1="321.90" y1="143.40" x2="321.90" y2="145.60" stroke="#000" stroke-width="0.6" />
<text x="321.70" y="151.30" font-size="4.5" text-anchor="middle" fill="#000" stroke="#000" stroke-width="0.22">10<tspan dy="-2.4" font-size="5">4</tspan></text>
<line x1="275.02" y1="143.40" x2="275.02" y2="144.60" stroke="#000" stroke-width="0.35" />
<line x1="277.25" y1="143.40" x2="277.25" y2="144.60" stroke="#000" stroke-width="0.35" />
<line x1="280.06" y1="143.40" x2="280.06" y2="144.60" stroke="#000" stroke-width="0.35" />
<line x1="281.91" y1="143.40" x2="281.91" y2="144.60" stroke="#000" stroke-width="0.35" />
<line x1="287.69" y1="143.40" x2="287.69" y2="144.60" stroke="#000" stroke-width="0.35" />
<line x1="289.92" y1="143.40" x2="289.92" y2="144.60" stroke="#000" stroke-width="0.35" />
<line x1="292.73" y1="143.40" x2="292.73" y2="144.60" stroke="#000" stroke-width="0.35" />
<line x1="294.59" y1="143.40" x2="294.59" y2="144.60" stroke="#000" stroke-width="0.35" />
<line x1="300.37" y1="143.40" x2="300.37" y2="144.60" stroke="#000" stroke-width="0.35" />
<line x1="302.60" y1="143.40" x2="302.60" y2="144.60" stroke="#000" stroke-width="0.35" />
<line x1="305.41" y1="143.40" x2="305.41" y2="144.60" stroke="#000" stroke-width="0.35" />
<line x1="307.26" y1="143.40" x2="307.26" y2="144.60" stroke="#000" stroke-width="0.35" />
<line x1="313.04" y1="143.40" x2="313.04" y2="144.60" stroke="#000" stroke-width="0.35" />
<line x1="315.27" y1="143.40" x2="315.27" y2="144.60" stroke="#000" stroke-width="0.35" />
<line x1="318.08" y1="143.40" x2="318.08" y2="144.60" stroke="#000" stroke-width="0.35" />
<line x1="319.94" y1="143.40" x2="319.94" y2="144.60" stroke="#000" stroke-width="0.35" />
<line x1="268.20" y1="143.40" x2="270.40" y2="143.40" stroke="#000" stroke-width="0.5" />
<text x="265.70" y="143.40" font-size="4.3" fill="#000" stroke="#000" stroke-width="0.15" text-anchor="middle" transform="rotate(-90 265.70 143.40)">0</text>
<line x1="268.20" y1="136.93" x2="270.40" y2="136.93" stroke="#000" stroke-width="0.5" />
<text x="265.70" y="136.93" font-size="4.3" fill="#000" stroke="#000" stroke-width="0.15" text-anchor="middle" transform="rotate(-90 265.70 136.93)">10</text>
<line x1="268.20" y1="130.45" x2="270.40" y2="130.45" stroke="#000" stroke-width="0.5" />
<text x="265.70" y="130.45" font-size="4.3" fill="#000" stroke="#000" stroke-width="0.15" text-anchor="middle" transform="rotate(-90 265.70 130.45)">20</text>
<line x1="268.20" y1="123.97" x2="270.40" y2="123.97" stroke="#000" stroke-width="0.5" />
<text x="265.70" y="123.97" font-size="4.3" fill="#000" stroke="#000" stroke-width="0.15" text-anchor="middle" transform="rotate(-90 265.70 123.97)">30</text>
<line x1="268.20" y1="117.50" x2="270.40" y2="117.50" stroke="#000" stroke-width="0.5" />
<text x="265.70" y="117.50" font-size="4.3" fill="#000" stroke="#000" stroke-width="0.15" text-anchor="middle" transform="rotate(-90 265.70 117.50)">40</text>
<line x1="268.20" y1="111.03" x2="270.40" y2="111.03" stroke="#000" stroke-width="0.5" />
<text x="265.70" y="111.03" font-size="4.3" fill="#000" stroke="#000" stroke-width="0.15" text-anchor="middle" transform="rotate(-90 265.70 111.03)">50</text>
<line x1="268.20" y1="104.55" x2="270.40" y2="104.55" stroke="#000" stroke-width="0.5" />
<text x="265.70" y="104.55" font-size="4.3" fill="#000" stroke="#000" stroke-width="0.15" text-anchor="middle" transform="rotate(-90 265.70 104.55)">60</text>
<line x1="268.20" y1="98.07" x2="270.40" y2="98.07" stroke="#000" stroke-width="0.5" />
<text x="265.70" y="98.07" font-size="4.3" fill="#000" stroke="#000" stroke-width="0.15" text-anchor="middle" transform="rotate(-90 265.70 98.07)">70</text>
<line x1="268.20" y1="91.60" x2="270.40" y2="91.60" stroke="#000" stroke-width="0.5" />
<text x="265.70" y="91.60" font-size="4.3" fill="#000" stroke="#000" stroke-width="0.15" text-anchor="middle" transform="rotate(-90 265.70 91.60)">80</text>
<line x1="269.10" y1="140.16" x2="270.40" y2="140.16" stroke="#000" stroke-width="0.4" />
<line x1="269.10" y1="133.69" x2="270.40" y2="133.69" stroke="#000" stroke-width="0.4" />
<line x1="269.10" y1="127.21" x2="270.40" y2="127.21" stroke="#000" stroke-width="0.4" />
<line x1="269.10" y1="120.74" x2="270.40" y2="120.74" stroke="#000" stroke-width="0.4" />
<line x1="269.10" y1="114.26" x2="270.40" y2="114.26" stroke="#000" stroke-width="0.4" />
<line x1="269.10" y1="107.79" x2="270.40" y2="107.79" stroke="#000" stroke-width="0.4" />
<line x1="269.10" y1="101.31" x2="270.40" y2="101.31" stroke="#000" stroke-width="0.4" />
<line x1="269.10" y1="94.84" x2="270.40" y2="94.84" stroke="#000" stroke-width="0.4" />
<text x="319.90" y="98.00" font-size="6.0" font-weight="bold" text-anchor="end" fill="#000" stroke="#000" stroke-width="0.22" >MFI : 91.06</text>
<path d="M333.60 143.40 L333.60 142.45 L334.18 142.15 L334.76 141.96 L335.34 141.86 L335.92 141.40 L336.50 140.64 L337.08 140.05 L337.66 139.71 L338.24 138.05 L338.82 137.13 L339.40 135.82 L339.98 135.90 L340.56 134.72 L341.14 134.14 L341.72 131.84 L342.30 131.82 L342.88 131.55 L343.46 130.50 L344.04 128.97 L344.62 128.59 L345.20 128.28 L345.78 126.97 L346.36 122.89 L346.94 122.29 L347.52 123.23 L348.10 126.91 L348.68 128.68 L349.26 128.77 L349.84 131.01 L350.42 133.27 L351.00 132.54 L351.58 131.89 L352.16 130.37 L352.74 130.81 L353.32 127.83 L353.90 128.73 L354.48 127.44 L355.06 129.47 L355.64 130.71 L356.22 131.06 L356.80 130.67 L357.38 132.33 L357.96 132.93 L358.54 132.43 L359.12 133.14 L359.70 133.56 L360.28 133.65 L360.86 134.02 L361.44 133.94 L362.02 133.89 L362.60 132.67 L363.18 130.50 L363.76 130.25 L364.34 128.05 L364.92 127.16 L365.50 124.89 L366.08 123.89 L366.66 120.61 L367.24 119.20 L367.82 113.36 L368.40 112.05 L368.98 113.04 L369.56 110.55 L370.14 106.98 L370.72 110.97 L371.30 105.96 L371.88 107.49 L372.46 107.51 L373.04 106.28 L373.62 109.66 L374.20 109.78 L374.78 111.42 L375.36 113.15 L375.94 119.11 L376.52 120.26 L377.10 124.00 L377.68 127.80 L378.26 131.84 L378.84 135.36 L379.42 137.50 L380.00 138.53 L380.58 139.67 L381.16 140.44 L381.74 141.64 L382.32 142.01 L382.90 142.36 L383.48 142.60 L384.06 142.81 L384.64 142.92 L385.22 143.02 L385.80 143.13 L385.80 143.40 Z" fill="#000" stroke="#000" stroke-width="0.4" stroke-linejoin="round"/>
<rect x="333.60" y="91.60" width="52.20" height="51.80" fill="none" stroke="#000" stroke-width="1.25" />
<line x1="334.40" y1="143.40" x2="334.40" y2="145.60" stroke="#000" stroke-width="0.6" />
<text x="334.20" y="151.30" font-size="4.5" text-anchor="middle" fill="#000" stroke="#000" stroke-width="0.22">10<tspan dy="-2.4" font-size="5">0</tspan></text>
<line x1="347.25" y1="143.40" x2="347.25" y2="145.60" stroke="#000" stroke-width="0.6" />
<text x="347.05" y="151.30" font-size="4.5" text-anchor="middle" fill="#000" stroke="#000" stroke-width="0.22">10<tspan dy="-2.4" font-size="5">1</tspan></text>
<line x1="360.10" y1="143.40" x2="360.10" y2="145.60" stroke="#000" stroke-width="0.6" />
<text x="359.90" y="151.30" font-size="4.5" text-anchor="middle" fill="#000" stroke="#000" stroke-width="0.22">10<tspan dy="-2.4" font-size="5">2</tspan></text>
<line x1="372.95" y1="143.40" x2="372.95" y2="145.60" stroke="#000" stroke-width="0.6" />
<text x="372.75" y="151.30" font-size="4.5" text-anchor="middle" fill="#000" stroke="#000" stroke-width="0.22">10<tspan dy="-2.4" font-size="5">3</tspan></text>
<line x1="385.80" y1="143.40" x2="385.80" y2="145.60" stroke="#000" stroke-width="0.6" />
<text x="385.60" y="151.30" font-size="4.5" text-anchor="middle" fill="#000" stroke="#000" stroke-width="0.22">10<tspan dy="-2.4" font-size="5">4</tspan></text>
<line x1="338.27" y1="143.40" x2="338.27" y2="144.60" stroke="#000" stroke-width="0.35" />
<line x1="340.53" y1="143.40" x2="340.53" y2="144.60" stroke="#000" stroke-width="0.35" />
<line x1="343.38" y1="143.40" x2="343.38" y2="144.60" stroke="#000" stroke-width="0.35" />
<line x1="345.26" y1="143.40" x2="345.26" y2="144.60" stroke="#000" stroke-width="0.35" />
<line x1="351.12" y1="143.40" x2="351.12" y2="144.60" stroke="#000" stroke-width="0.35" />
<line x1="353.38" y1="143.40" x2="353.38" y2="144.60" stroke="#000" stroke-width="0.35" />
<line x1="356.23" y1="143.40" x2="356.23" y2="144.60" stroke="#000" stroke-width="0.35" />
<line x1="358.11" y1="143.40" x2="358.11" y2="144.60" stroke="#000" stroke-width="0.35" />
<line x1="363.97" y1="143.40" x2="363.97" y2="144.60" stroke="#000" stroke-width="0.35" />
<line x1="366.23" y1="143.40" x2="366.23" y2="144.60" stroke="#000" stroke-width="0.35" />
<line x1="369.08" y1="143.40" x2="369.08" y2="144.60" stroke="#000" stroke-width="0.35" />
<line x1="370.96" y1="143.40" x2="370.96" y2="144.60" stroke="#000" stroke-width="0.35" />
<line x1="376.82" y1="143.40" x2="376.82" y2="144.60" stroke="#000" stroke-width="0.35" />
<line x1="379.08" y1="143.40" x2="379.08" y2="144.60" stroke="#000" stroke-width="0.35" />
<line x1="381.93" y1="143.40" x2="381.93" y2="144.60" stroke="#000" stroke-width="0.35" />
<line x1="383.81" y1="143.40" x2="383.81" y2="144.60" stroke="#000" stroke-width="0.35" />
<line x1="331.40" y1="143.40" x2="333.60" y2="143.40" stroke="#000" stroke-width="0.5" />
<text x="328.90" y="143.40" font-size="4.3" fill="#000" stroke="#000" stroke-width="0.15" text-anchor="middle" transform="rotate(-90 328.90 143.40)">0</text>
<line x1="331.40" y1="133.04" x2="333.60" y2="133.04" stroke="#000" stroke-width="0.5" />
<text x="328.90" y="133.04" font-size="4.3" fill="#000" stroke="#000" stroke-width="0.15" text-anchor="middle" transform="rotate(-90 328.90 133.04)">20</text>
<line x1="331.40" y1="122.68" x2="333.60" y2="122.68" stroke="#000" stroke-width="0.5" />
<text x="328.90" y="122.68" font-size="4.3" fill="#000" stroke="#000" stroke-width="0.15" text-anchor="middle" transform="rotate(-90 328.90 122.68)">40</text>
<line x1="331.40" y1="112.32" x2="333.60" y2="112.32" stroke="#000" stroke-width="0.5" />
<text x="328.90" y="112.32" font-size="4.3" fill="#000" stroke="#000" stroke-width="0.15" text-anchor="middle" transform="rotate(-90 328.90 112.32)">60</text>
<line x1="331.40" y1="101.96" x2="333.60" y2="101.96" stroke="#000" stroke-width="0.5" />
<text x="328.90" y="101.96" font-size="4.3" fill="#000" stroke="#000" stroke-width="0.15" text-anchor="middle" transform="rotate(-90 328.90 101.96)">80</text>
<line x1="331.40" y1="91.60" x2="333.60" y2="91.60" stroke="#000" stroke-width="0.5" />
<text x="328.90" y="91.60" font-size="4.3" fill="#000" stroke="#000" stroke-width="0.15" text-anchor="middle" transform="rotate(-90 328.90 91.60)">100</text>
<line x1="332.30" y1="138.22" x2="333.60" y2="138.22" stroke="#000" stroke-width="0.4" />
<line x1="332.30" y1="127.86" x2="333.60" y2="127.86" stroke="#000" stroke-width="0.4" />
<line x1="332.30" y1="117.50" x2="333.60" y2="117.50" stroke="#000" stroke-width="0.4" />
<line x1="332.30" y1="107.14" x2="333.60" y2="107.14" stroke="#000" stroke-width="0.4" />
<line x1="332.30" y1="96.78" x2="333.60" y2="96.78" stroke="#000" stroke-width="0.4" />
<text x="383.80" y="98.00" font-size="6.0" font-weight="bold" text-anchor="end" fill="#000" stroke="#000" stroke-width="0.22" >MFI : 482.53</text>
<path d="M398.30 143.40 L398.30 131.71 L398.88 132.03 L399.46 132.76 L400.04 133.78 L400.62 134.05 L401.21 133.97 L401.79 133.70 L402.37 134.19 L402.95 133.38 L403.53 133.28 L404.11 131.58 L404.69 131.11 L405.27 131.56 L405.85 131.82 L406.44 129.70 L407.02 129.99 L407.60 128.77 L408.18 128.62 L408.76 126.47 L409.34 124.83 L409.92 123.37 L410.50 123.08 L411.08 120.95 L411.67 121.94 L412.25 119.98 L412.83 120.05 L413.41 118.18 L413.99 119.20 L414.57 118.76 L415.15 116.71 L415.73 115.42 L416.31 111.95 L416.90 110.54 L417.48 107.54 L418.06 104.82 L418.64 101.10 L419.22 97.66 L419.80 99.19 L420.38 100.23 L420.96 97.46 L421.54 107.53 L422.13 108.98 L422.71 115.19 L423.29 123.15 L423.87 125.97 L424.45 130.73 L425.03 135.96 L425.61 139.81 L426.19 140.51 L426.77 141.49 L427.36 142.08 L427.94 142.41 L428.52 142.56 L429.10 142.71 L429.68 142.86 L430.26 143.01 L430.84 143.14 L431.42 143.17 L432.00 143.21 L432.59 143.25 L433.17 143.29 L433.75 143.32 L434.33 143.36 L434.91 143.40 L435.49 143.40 L436.07 143.40 L436.65 143.40 L437.23 143.40 L437.82 143.40 L438.40 143.40 L438.98 143.40 L439.56 143.40 L440.14 143.40 L440.72 143.40 L441.30 143.40 L441.88 143.40 L442.46 143.40 L443.05 143.40 L443.63 143.40 L444.21 143.40 L444.79 143.40 L445.37 143.40 L445.95 143.40 L446.53 143.40 L447.11 143.40 L447.69 143.40 L448.28 143.40 L448.86 143.40 L449.44 143.40 L450.02 143.40 L450.60 143.40 L450.60 143.40 Z" fill="#000" stroke="#000" stroke-width="0.4" stroke-linejoin="round"/>
<rect x="398.30" y="91.60" width="52.30" height="51.80" fill="none" stroke="#000" stroke-width="1.25" />
<line x1="399.10" y1="143.40" x2="399.10" y2="145.60" stroke="#000" stroke-width="0.6" />
<text x="398.90" y="151.30" font-size="4.5" text-anchor="middle" fill="#000" stroke="#000" stroke-width="0.22">10<tspan dy="-2.4" font-size="5">0</tspan></text>
<line x1="411.98" y1="143.40" x2="411.98" y2="145.60" stroke="#000" stroke-width="0.6" />
<text x="411.78" y="151.30" font-size="4.5" text-anchor="middle" fill="#000" stroke="#000" stroke-width="0.22">10<tspan dy="-2.4" font-size="5">1</tspan></text>
<line x1="424.85" y1="143.40" x2="424.85" y2="145.60" stroke="#000" stroke-width="0.6" />
<text x="424.65" y="151.30" font-size="4.5" text-anchor="middle" fill="#000" stroke="#000" stroke-width="0.22">10<tspan dy="-2.4" font-size="5">2</tspan></text>
<line x1="437.73" y1="143.40" x2="437.73" y2="145.60" stroke="#000" stroke-width="0.6" />
<text x="437.53" y="151.30" font-size="4.5" text-anchor="middle" fill="#000" stroke="#000" stroke-width="0.22">10<tspan dy="-2.4" font-size="5">3</tspan></text>
<line x1="450.60" y1="143.40" x2="450.60" y2="145.60" stroke="#000" stroke-width="0.6" />
<text x="450.40" y="151.30" font-size="4.5" text-anchor="middle" fill="#000" stroke="#000" stroke-width="0.22">10<tspan dy="-2.4" font-size="5">4</tspan></text>
<line x1="402.98" y1="143.40" x2="402.98" y2="144.60" stroke="#000" stroke-width="0.35" />
<line x1="405.24" y1="143.40" x2="405.24" y2="144.60" stroke="#000" stroke-width="0.35" />
<line x1="408.10" y1="143.40" x2="408.10" y2="144.60" stroke="#000" stroke-width="0.35" />
<line x1="409.98" y1="143.40" x2="409.98" y2="144.60" stroke="#000" stroke-width="0.35" />
<line x1="415.85" y1="143.40" x2="415.85" y2="144.60" stroke="#000" stroke-width="0.35" />
<line x1="418.12" y1="143.40" x2="418.12" y2="144.60" stroke="#000" stroke-width="0.35" />
<line x1="420.97" y1="143.40" x2="420.97" y2="144.60" stroke="#000" stroke-width="0.35" />
<line x1="422.86" y1="143.40" x2="422.86" y2="144.60" stroke="#000" stroke-width="0.35" />
<line x1="428.73" y1="143.40" x2="428.73" y2="144.60" stroke="#000" stroke-width="0.35" />
<line x1="430.99" y1="143.40" x2="430.99" y2="144.60" stroke="#000" stroke-width="0.35" />
<line x1="433.85" y1="143.40" x2="433.85" y2="144.60" stroke="#000" stroke-width="0.35" />
<line x1="435.73" y1="143.40" x2="435.73" y2="144.60" stroke="#000" stroke-width="0.35" />
<line x1="441.60" y1="143.40" x2="441.60" y2="144.60" stroke="#000" stroke-width="0.35" />
<line x1="443.87" y1="143.40" x2="443.87" y2="144.60" stroke="#000" stroke-width="0.35" />
<line x1="446.72" y1="143.40" x2="446.72" y2="144.60" stroke="#000" stroke-width="0.35" />
<line x1="448.61" y1="143.40" x2="448.61" y2="144.60" stroke="#000" stroke-width="0.35" />
<line x1="396.10" y1="143.40" x2="398.30" y2="143.40" stroke="#000" stroke-width="0.5" />
<text x="393.60" y="143.40" font-size="4.3" fill="#000" stroke="#000" stroke-width="0.15" text-anchor="middle" transform="rotate(-90 393.60 143.40)">0</text>
<line x1="396.10" y1="130.45" x2="398.30" y2="130.45" stroke="#000" stroke-width="0.5" />
<text x="393.60" y="130.45" font-size="4.3" fill="#000" stroke="#000" stroke-width="0.15" text-anchor="middle" transform="rotate(-90 393.60 130.45)">20</text>
<line x1="396.10" y1="117.50" x2="398.30" y2="117.50" stroke="#000" stroke-width="0.5" />
<text x="393.60" y="117.50" font-size="4.3" fill="#000" stroke="#000" stroke-width="0.15" text-anchor="middle" transform="rotate(-90 393.60 117.50)">40</text>
<line x1="396.10" y1="104.55" x2="398.30" y2="104.55" stroke="#000" stroke-width="0.5" />
<text x="393.60" y="104.55" font-size="4.3" fill="#000" stroke="#000" stroke-width="0.15" text-anchor="middle" transform="rotate(-90 393.60 104.55)">60</text>
<line x1="396.10" y1="91.60" x2="398.30" y2="91.60" stroke="#000" stroke-width="0.5" />
<text x="393.60" y="91.60" font-size="4.3" fill="#000" stroke="#000" stroke-width="0.15" text-anchor="middle" transform="rotate(-90 393.60 91.60)">80</text>
<line x1="397.00" y1="136.93" x2="398.30" y2="136.93" stroke="#000" stroke-width="0.4" />
<line x1="397.00" y1="123.97" x2="398.30" y2="123.97" stroke="#000" stroke-width="0.4" />
<line x1="397.00" y1="111.03" x2="398.30" y2="111.03" stroke="#000" stroke-width="0.4" />
<line x1="397.00" y1="98.07" x2="398.30" y2="98.07" stroke="#000" stroke-width="0.4" />
<text x="448.60" y="98.00" font-size="6.0" font-weight="bold" text-anchor="end" fill="#000" stroke="#000" stroke-width="0.22" >MFI : 32.17</text>
<path d="M464.00 143.40 L464.00 133.11 L464.58 132.23 L465.16 131.99 L465.74 131.58 L466.32 131.53 L466.89 130.39 L467.47 130.30 L468.05 129.78 L468.63 130.35 L469.21 130.36 L469.79 129.66 L470.37 128.98 L470.95 129.67 L471.53 127.93 L472.10 128.68 L472.68 128.57 L473.26 128.64 L473.84 128.65 L474.42 129.62 L475.00 131.22 L475.58 129.97 L476.16 130.61 L476.74 131.63 L477.31 132.07 L477.89 132.29 L478.47 133.73 L479.05 132.96 L479.63 134.16 L480.21 134.81 L480.79 134.89 L481.37 134.49 L481.95 135.27 L482.52 134.52 L483.10 134.21 L483.68 134.92 L484.26 134.60 L484.84 133.83 L485.42 131.86 L486.00 129.66 L486.58 128.00 L487.16 125.93 L487.73 125.74 L488.31 123.52 L488.89 121.00 L489.47 116.76 L490.05 116.50 L490.63 112.94 L491.21 113.06 L491.79 110.08 L492.37 105.99 L492.94 101.62 L493.52 100.13 L494.10 98.90 L494.68 101.09 L495.26 100.04 L495.84 101.18 L496.42 103.24 L497.00 107.64 L497.58 107.85 L498.15 116.38 L498.73 117.92 L499.31 123.18 L499.89 130.40 L500.47 134.00 L501.05 136.44 L501.63 137.74 L502.21 139.54 L502.79 140.97 L503.36 141.77 L503.94 141.85 L504.52 142.29 L505.10 142.46 L505.68 142.75 L506.26 142.82 L506.84 142.89 L507.42 142.97 L508.00 143.04 L508.57 143.11 L509.15 143.18 L509.73 143.26 L510.31 143.33 L510.89 143.40 L511.47 143.40 L512.05 143.40 L512.63 143.40 L513.21 143.40 L513.78 143.40 L514.36 143.40 L514.94 143.40 L515.52 143.40 L516.10 143.40 L516.10 143.40 Z" fill="#000" stroke="#000" stroke-width="0.4" stroke-linejoin="round"/>
<rect x="464.00" y="91.60" width="52.10" height="51.80" fill="none" stroke="#000" stroke-width="1.25" />
<line x1="464.80" y1="143.40" x2="464.80" y2="145.60" stroke="#000" stroke-width="0.6" />
<text x="464.60" y="151.30" font-size="4.5" text-anchor="middle" fill="#000" stroke="#000" stroke-width="0.22">10<tspan dy="-2.4" font-size="5">0</tspan></text>
<line x1="477.62" y1="143.40" x2="477.62" y2="145.60" stroke="#000" stroke-width="0.6" />
<text x="477.43" y="151.30" font-size="4.5" text-anchor="middle" fill="#000" stroke="#000" stroke-width="0.22">10<tspan dy="-2.4" font-size="5">1</tspan></text>
<line x1="490.45" y1="143.40" x2="490.45" y2="145.60" stroke="#000" stroke-width="0.6" />
<text x="490.25" y="151.30" font-size="4.5" text-anchor="middle" fill="#000" stroke="#000" stroke-width="0.22">10<tspan dy="-2.4" font-size="5">2</tspan></text>
<line x1="503.28" y1="143.40" x2="503.28" y2="145.60" stroke="#000" stroke-width="0.6" />
<text x="503.08" y="151.30" font-size="4.5" text-anchor="middle" fill="#000" stroke="#000" stroke-width="0.22">10<tspan dy="-2.4" font-size="5">3</tspan></text>
<line x1="516.10" y1="143.40" x2="516.10" y2="145.60" stroke="#000" stroke-width="0.6" />
<text x="515.90" y="151.30" font-size="4.5" text-anchor="middle" fill="#000" stroke="#000" stroke-width="0.22">10<tspan dy="-2.4" font-size="5">4</tspan></text>
<line x1="468.66" y1="143.40" x2="468.66" y2="144.60" stroke="#000" stroke-width="0.35" />
<line x1="470.92" y1="143.40" x2="470.92" y2="144.60" stroke="#000" stroke-width="0.35" />
<line x1="473.76" y1="143.40" x2="473.76" y2="144.60" stroke="#000" stroke-width="0.35" />
<line x1="475.64" y1="143.40" x2="475.64" y2="144.60" stroke="#000" stroke-width="0.35" />
<line x1="481.49" y1="143.40" x2="481.49" y2="144.60" stroke="#000" stroke-width="0.35" />
<line x1="483.74" y1="143.40" x2="483.74" y2="144.60" stroke="#000" stroke-width="0.35" />
<line x1="486.59" y1="143.40" x2="486.59" y2="144.60" stroke="#000" stroke-width="0.35" />
<line x1="488.46" y1="143.40" x2="488.46" y2="144.60" stroke="#000" stroke-width="0.35" />
<line x1="494.31" y1="143.40" x2="494.31" y2="144.60" stroke="#000" stroke-width="0.35" />
<line x1="496.57" y1="143.40" x2="496.57" y2="144.60" stroke="#000" stroke-width="0.35" />
<line x1="499.41" y1="143.40" x2="499.41" y2="144.60" stroke="#000" stroke-width="0.35" />
<line x1="501.29" y1="143.40" x2="501.29" y2="144.60" stroke="#000" stroke-width="0.35" />
<line x1="507.14" y1="143.40" x2="507.14" y2="144.60" stroke="#000" stroke-width="0.35" />
<line x1="509.39" y1="143.40" x2="509.39" y2="144.60" stroke="#000" stroke-width="0.35" />
<line x1="512.24" y1="143.40" x2="512.24" y2="144.60" stroke="#000" stroke-width="0.35" />
<line x1="514.11" y1="143.40" x2="514.11" y2="144.60" stroke="#000" stroke-width="0.35" />
<line x1="461.80" y1="143.40" x2="464.00" y2="143.40" stroke="#000" stroke-width="0.5" />
<text x="459.30" y="143.40" font-size="4.3" fill="#000" stroke="#000" stroke-width="0.15" text-anchor="middle" transform="rotate(-90 459.30 143.40)">0</text>
<line x1="461.80" y1="134.77" x2="464.00" y2="134.77" stroke="#000" stroke-width="0.5" />
<text x="459.30" y="134.77" font-size="4.3" fill="#000" stroke="#000" stroke-width="0.15" text-anchor="middle" transform="rotate(-90 459.30 134.77)">20</text>
<line x1="461.80" y1="126.13" x2="464.00" y2="126.13" stroke="#000" stroke-width="0.5" />
<text x="459.30" y="126.13" font-size="4.3" fill="#000" stroke="#000" stroke-width="0.15" text-anchor="middle" transform="rotate(-90 459.30 126.13)">40</text>
<line x1="461.80" y1="117.50" x2="464.00" y2="117.50" stroke="#000" stroke-width="0.5" />
<text x="459.30" y="117.50" font-size="4.3" fill="#000" stroke="#000" stroke-width="0.15" text-anchor="middle" transform="rotate(-90 459.30 117.50)">60</text>
<line x1="461.80" y1="108.87" x2="464.00" y2="108.87" stroke="#000" stroke-width="0.5" />
<text x="459.30" y="108.87" font-size="4.3" fill="#000" stroke="#000" stroke-width="0.15" text-anchor="middle" transform="rotate(-90 459.30 108.87)">80</text>
<line x1="461.80" y1="100.23" x2="464.00" y2="100.23" stroke="#000" stroke-width="0.5" />
<text x="459.30" y="100.23" font-size="4.3" fill="#000" stroke="#000" stroke-width="0.15" text-anchor="middle" transform="rotate(-90 459.30 100.23)">100</text>
<line x1="461.80" y1="91.60" x2="464.00" y2="91.60" stroke="#000" stroke-width="0.5" />
<text x="459.30" y="91.60" font-size="4.3" fill="#000" stroke="#000" stroke-width="0.15" text-anchor="middle" transform="rotate(-90 459.30 91.60)">120</text>
<line x1="462.70" y1="139.08" x2="464.00" y2="139.08" stroke="#000" stroke-width="0.4" />
<line x1="462.70" y1="130.45" x2="464.00" y2="130.45" stroke="#000" stroke-width="0.4" />
<line x1="462.70" y1="121.82" x2="464.00" y2="121.82" stroke="#000" stroke-width="0.4" />
<line x1="462.70" y1="113.18" x2="464.00" y2="113.18" stroke="#000" stroke-width="0.4" />
<line x1="462.70" y1="104.55" x2="464.00" y2="104.55" stroke="#000" stroke-width="0.4" />
<line x1="462.70" y1="95.92" x2="464.00" y2="95.92" stroke="#000" stroke-width="0.4" />
<text x="514.10" y="98.00" font-size="6.0" font-weight="bold" text-anchor="end" fill="#000" stroke="#000" stroke-width="0.22" >MFI : 140.50</text>
<path d="M270.40 214.20 L270.40 198.56 L270.97 200.99 L271.54 201.46 L272.12 201.38 L272.69 203.56 L273.26 202.79 L273.83 202.87 L274.41 201.63 L274.98 201.49 L275.55 201.51 L276.12 198.90 L276.69 198.84 L277.27 199.85 L277.84 200.56 L278.41 200.05 L278.98 199.70 L279.56 198.88 L280.13 198.15 L280.70 196.37 L281.27 197.26 L281.84 196.58 L282.42 197.40 L282.99 192.46 L283.56 191.91 L284.13 196.39 L284.71 195.53 L285.28 196.41 L285.85 195.98 L286.42 197.22 L286.99 196.45 L287.57 196.15 L288.14 194.74 L288.71 196.41 L289.28 197.50 L289.86 197.04 L290.43 196.94 L291.00 197.10 L291.57 196.40 L292.14 193.19 L292.72 193.37 L293.29 189.15 L293.86 190.19 L294.43 188.47 L295.01 186.18 L295.58 186.64 L296.15 184.66 L296.72 180.50 L297.29 179.84 L297.87 179.38 L298.44 179.55 L299.01 175.92 L299.58 174.30 L300.16 178.71 L300.73 179.95 L301.30 186.10 L301.87 186.81 L302.44 192.88 L303.02 196.85 L303.59 201.41 L304.16 205.68 L304.73 209.40 L305.31 210.90 L305.88 211.98 L306.45 212.54 L307.02 213.21 L307.59 213.26 L308.17 213.39 L308.74 213.52 L309.31 213.65 L309.88 213.77 L310.46 213.90 L311.03 213.95 L311.60 213.97 L312.17 214.00 L312.74 214.02 L313.32 214.05 L313.89 214.07 L314.46 214.10 L315.03 214.12 L315.61 214.15 L316.18 214.17 L316.75 214.20 L317.32 214.20 L317.89 214.20 L318.47 214.20 L319.04 214.20 L319.61 214.20 L320.18 214.20 L320.76 214.20 L321.33 214.20 L321.90 214.20 L321.90 214.20 Z" fill="#000" stroke="#000" stroke-width="0.4" stroke-linejoin="round"/>
<rect x="270.40" y="162.40" width="51.50" height="51.80" fill="none" stroke="#000" stroke-width="1.25" />
<line x1="271.20" y1="214.20" x2="271.20" y2="216.40" stroke="#000" stroke-width="0.6" />
<text x="271.00" y="222.10" font-size="4.5" text-anchor="middle" fill="#000" stroke="#000" stroke-width="0.22">10<tspan dy="-2.4" font-size="5">0</tspan></text>
<line x1="283.88" y1="214.20" x2="283.88" y2="216.40" stroke="#000" stroke-width="0.6" />
<text x="283.68" y="222.10" font-size="4.5" text-anchor="middle" fill="#000" stroke="#000" stroke-width="0.22">10<tspan dy="-2.4" font-size="5">1</tspan></text>
<line x1="296.55" y1="214.20" x2="296.55" y2="216.40" stroke="#000" stroke-width="0.6" />
<text x="296.35" y="222.10" font-size="4.5" text-anchor="middle" fill="#000" stroke="#000" stroke-width="0.22">10<tspan dy="-2.4" font-size="5">2</tspan></text>
<line x1="309.23" y1="214.20" x2="309.23" y2="216.40" stroke="#000" stroke-width="0.6" />
<text x="309.03" y="222.10" font-size="4.5" text-anchor="middle" fill="#000" stroke="#000" stroke-width="0.22">10<tspan dy="-2.4" font-size="5">3</tspan></text>
<line x1="321.90" y1="214.20" x2="321.90" y2="216.40" stroke="#000" stroke-width="0.6" />
<text x="321.70" y="222.10" font-size="4.5" text-anchor="middle" fill="#000" stroke="#000" stroke-width="0.22">10<tspan dy="-2.4" font-size="5">4</tspan></text>
<line x1="275.02" y1="214.20" x2="275.02" y2="215.40" stroke="#000" stroke-width="0.35" />
<line x1="277.25" y1="214.20" x2="277.25" y2="215.40" stroke="#000" stroke-width="0.35" />
<line x1="280.06" y1="214.20" x2="280.06" y2="215.40" stroke="#000" stroke-width="0.35" />
<line x1="281.91" y1="214.20" x2="281.91" y2="215.40" stroke="#000" stroke-width="0.35" />
<line x1="287.69" y1="214.20" x2="287.69" y2="215.40" stroke="#000" stroke-width="0.35" />
<line x1="289.92" y1="214.20" x2="289.92" y2="215.40" stroke="#000" stroke-width="0.35" />
<line x1="292.73" y1="214.20" x2="292.73" y2="215.40" stroke="#000" stroke-width="0.35" />
<line x1="294.59" y1="214.20" x2="294.59" y2="215.40" stroke="#000" stroke-width="0.35" />
<line x1="300.37" y1="214.20" x2="300.37" y2="215.40" stroke="#000" stroke-width="0.35" />
<line x1="302.60" y1="214.20" x2="302.60" y2="215.40" stroke="#000" stroke-width="0.35" />
<line x1="305.41" y1="214.20" x2="305.41" y2="215.40" stroke="#000" stroke-width="0.35" />
<line x1="307.26" y1="214.20" x2="307.26" y2="215.40" stroke="#000" stroke-width="0.35" />
<line x1="313.04" y1="214.20" x2="313.04" y2="215.40" stroke="#000" stroke-width="0.35" />
<line x1="315.27" y1="214.20" x2="315.27" y2="215.40" stroke="#000" stroke-width="0.35" />
<line x1="318.08" y1="214.20" x2="318.08" y2="215.40" stroke="#000" stroke-width="0.35" />
<line x1="319.94" y1="214.20" x2="319.94" y2="215.40" stroke="#000" stroke-width="0.35" />
<line x1="268.20" y1="214.20" x2="270.40" y2="214.20" stroke="#000" stroke-width="0.5" />
<text x="265.70" y="214.20" font-size="4.3" fill="#000" stroke="#000" stroke-width="0.15" text-anchor="middle" transform="rotate(-90 265.70 214.20)">0</text>
<line x1="268.20" y1="207.72" x2="270.40" y2="207.72" stroke="#000" stroke-width="0.5" />
<text x="265.70" y="207.72" font-size="4.3" fill="#000" stroke="#000" stroke-width="0.15" text-anchor="middle" transform="rotate(-90 265.70 207.72)">10</text>
<line x1="268.20" y1="201.25" x2="270.40" y2="201.25" stroke="#000" stroke-width="0.5" />
<text x="265.70" y="201.25" font-size="4.3" fill="#000" stroke="#000" stroke-width="0.15" text-anchor="middle" transform="rotate(-90 265.70 201.25)">20</text>
<line x1="268.20" y1="194.78" x2="270.40" y2="194.78" stroke="#000" stroke-width="0.5" />
<text x="265.70" y="194.78" font-size="4.3" fill="#000" stroke="#000" stroke-width="0.15" text-anchor="middle" transform="rotate(-90 265.70 194.78)">30</text>
<line x1="268.20" y1="188.30" x2="270.40" y2="188.30" stroke="#000" stroke-width="0.5" />
<text x="265.70" y="188.30" font-size="4.3" fill="#000" stroke="#000" stroke-width="0.15" text-anchor="middle" transform="rotate(-90 265.70 188.30)">40</text>
<line x1="268.20" y1="181.82" x2="270.40" y2="181.82" stroke="#000" stroke-width="0.5" />
<text x="265.70" y="181.82" font-size="4.3" fill="#000" stroke="#000" stroke-width="0.15" text-anchor="middle" transform="rotate(-90 265.70 181.82)">50</text>
<line x1="268.20" y1="175.35" x2="270.40" y2="175.35" stroke="#000" stroke-width="0.5" />
<text x="265.70" y="175.35" font-size="4.3" fill="#000" stroke="#000" stroke-width="0.15" text-anchor="middle" transform="rotate(-90 265.70 175.35)">60</text>
<line x1="268.20" y1="168.88" x2="270.40" y2="168.88" stroke="#000" stroke-width="0.5" />
<text x="265.70" y="168.88" font-size="4.3" fill="#000" stroke="#000" stroke-width="0.15" text-anchor="middle" transform="rotate(-90 265.70 168.88)">70</text>
<line x1="268.20" y1="162.40" x2="270.40" y2="162.40" stroke="#000" stroke-width="0.5" />
<text x="265.70" y="162.40" font-size="4.3" fill="#000" stroke="#000" stroke-width="0.15" text-anchor="middle" transform="rotate(-90 265.70 162.40)">80</text>
<line x1="269.10" y1="210.96" x2="270.40" y2="210.96" stroke="#000" stroke-width="0.4" />
<line x1="269.10" y1="204.49" x2="270.40" y2="204.49" stroke="#000" stroke-width="0.4" />
<line x1="269.10" y1="198.01" x2="270.40" y2="198.01" stroke="#000" stroke-width="0.4" />
<line x1="269.10" y1="191.54" x2="270.40" y2="191.54" stroke="#000" stroke-width="0.4" />
<line x1="269.10" y1="185.06" x2="270.40" y2="185.06" stroke="#000" stroke-width="0.4" />
<line x1="269.10" y1="178.59" x2="270.40" y2="178.59" stroke="#000" stroke-width="0.4" />
<line x1="269.10" y1="172.11" x2="270.40" y2="172.11" stroke="#000" stroke-width="0.4" />
<line x1="269.10" y1="165.64" x2="270.40" y2="165.64" stroke="#000" stroke-width="0.4" />
<text x="319.90" y="168.80" font-size="6.0" font-weight="bold" text-anchor="end" fill="#000" stroke="#000" stroke-width="0.22" >MFI : 83.37</text>
<path d="M333.60 214.20 L333.60 213.39 L334.18 213.31 L334.76 213.24 L335.34 213.25 L335.92 212.89 L336.50 212.22 L337.08 211.90 L337.66 211.15 L338.24 210.48 L338.82 209.35 L339.40 208.55 L339.98 207.87 L340.56 206.98 L341.14 206.01 L341.72 203.99 L342.30 203.69 L342.88 203.27 L343.46 200.95 L344.04 199.80 L344.62 200.14 L345.20 200.04 L345.78 199.08 L346.36 199.12 L346.94 198.20 L347.52 198.67 L348.10 198.02 L348.68 198.56 L349.26 198.55 L349.84 198.61 L350.42 199.82 L351.00 201.44 L351.58 202.29 L352.16 202.94 L352.74 204.07 L353.32 204.88 L353.90 205.50 L354.48 205.34 L355.06 204.48 L355.64 205.93 L356.22 205.56 L356.80 205.57 L357.38 205.04 L357.96 205.62 L358.54 205.18 L359.12 204.86 L359.70 204.24 L360.28 203.80 L360.86 202.14 L361.44 200.20 L362.02 197.99 L362.60 198.32 L363.18 196.42 L363.76 191.37 L364.34 187.63 L364.92 186.56 L365.50 183.12 L366.08 184.02 L366.66 179.98 L367.24 175.03 L367.82 174.22 L368.40 173.26 L368.98 173.85 L369.56 179.61 L370.14 182.49 L370.72 184.38 L371.30 184.59 L371.88 186.04 L372.46 187.18 L373.04 190.36 L373.62 193.53 L374.20 196.53 L374.78 200.63 L375.36 203.68 L375.94 206.97 L376.52 207.52 L377.10 209.51 L377.68 210.51 L378.26 212.11 L378.84 212.51 L379.42 212.83 L380.00 213.08 L380.58 213.27 L381.16 213.56 L381.74 213.61 L382.32 213.66 L382.90 213.72 L383.48 213.77 L384.06 213.82 L384.64 213.88 L385.22 213.93 L385.80 213.98 L385.80 214.20 Z" fill="#000" stroke="#000" stroke-width="0.4" stroke-linejoin="round"/>
<rect x="333.60" y="162.40" width="52.20" height="51.80" fill="none" stroke="#000" stroke-width="1.25" />
<line x1="334.40" y1="214.20" x2="334.40" y2="216.40" stroke="#000" stroke-width="0.6" />
<text x="334.20" y="222.10" font-size="4.5" text-anchor="middle" fill="#000" stroke="#000" stroke-width="0.22">10<tspan dy="-2.4" font-size="5">0</tspan></text>
<line x1="347.25" y1="214.20" x2="347.25" y2="216.40" stroke="#000" stroke-width="0.6" />
<text x="347.05" y="222.10" font-size="4.5" text-anchor="middle" fill="#000" stroke="#000" stroke-width="0.22">10<tspan dy="-2.4" font-size="5">1</tspan></text>
<line x1="360.10" y1="214.20" x2="360.10" y2="216.40" stroke="#000" stroke-width="0.6" />
<text x="359.90" y="222.10" font-size="4.5" text-anchor="middle" fill="#000" stroke="#000" stroke-width="0.22">10<tspan dy="-2.4" font-size="5">2</tspan></text>
<line x1="372.95" y1="214.20" x2="372.95" y2="216.40" stroke="#000" stroke-width="0.6" />
<text x="372.75" y="222.10" font-size="4.5" text-anchor="middle" fill="#000" stroke="#000" stroke-width="0.22">10<tspan dy="-2.4" font-size="5">3</tspan></text>
<line x1="385.80" y1="214.20" x2="385.80" y2="216.40" stroke="#000" stroke-width="0.6" />
<text x="385.60" y="222.10" font-size="4.5" text-anchor="middle" fill="#000" stroke="#000" stroke-width="0.22">10<tspan dy="-2.4" font-size="5">4</tspan></text>
<line x1="338.27" y1="214.20" x2="338.27" y2="215.40" stroke="#000" stroke-width="0.35" />
<line x1="340.53" y1="214.20" x2="340.53" y2="215.40" stroke="#000" stroke-width="0.35" />
<line x1="343.38" y1="214.20" x2="343.38" y2="215.40" stroke="#000" stroke-width="0.35" />
<line x1="345.26" y1="214.20" x2="345.26" y2="215.40" stroke="#000" stroke-width="0.35" />
<line x1="351.12" y1="214.20" x2="351.12" y2="215.40" stroke="#000" stroke-width="0.35" />
<line x1="353.38" y1="214.20" x2="353.38" y2="215.40" stroke="#000" stroke-width="0.35" />
<line x1="356.23" y1="214.20" x2="356.23" y2="215.40" stroke="#000" stroke-width="0.35" />
<line x1="358.11" y1="214.20" x2="358.11" y2="215.40" stroke="#000" stroke-width="0.35" />
<line x1="363.97" y1="214.20" x2="363.97" y2="215.40" stroke="#000" stroke-width="0.35" />
<line x1="366.23" y1="214.20" x2="366.23" y2="215.40" stroke="#000" stroke-width="0.35" />
<line x1="369.08" y1="214.20" x2="369.08" y2="215.40" stroke="#000" stroke-width="0.35" />
<line x1="370.96" y1="214.20" x2="370.96" y2="215.40" stroke="#000" stroke-width="0.35" />
<line x1="376.82" y1="214.20" x2="376.82" y2="215.40" stroke="#000" stroke-width="0.35" />
<line x1="379.08" y1="214.20" x2="379.08" y2="215.40" stroke="#000" stroke-width="0.35" />
<line x1="381.93" y1="214.20" x2="381.93" y2="215.40" stroke="#000" stroke-width="0.35" />
<line x1="383.81" y1="214.20" x2="383.81" y2="215.40" stroke="#000" stroke-width="0.35" />
<line x1="331.40" y1="214.20" x2="333.60" y2="214.20" stroke="#000" stroke-width="0.5" />
<text x="328.90" y="214.20" font-size="4.3" fill="#000" stroke="#000" stroke-width="0.15" text-anchor="middle" transform="rotate(-90 328.90 214.20)">0</text>
<line x1="331.40" y1="203.84" x2="333.60" y2="203.84" stroke="#000" stroke-width="0.5" />
<text x="328.90" y="203.84" font-size="4.3" fill="#000" stroke="#000" stroke-width="0.15" text-anchor="middle" transform="rotate(-90 328.90 203.84)">20</text>
<line x1="331.40" y1="193.48" x2="333.60" y2="193.48" stroke="#000" stroke-width="0.5" />
<text x="328.90" y="193.48" font-size="4.3" fill="#000" stroke="#000" stroke-width="0.15" text-anchor="middle" transform="rotate(-90 328.90 193.48)">40</text>
<line x1="331.40" y1="183.12" x2="333.60" y2="183.12" stroke="#000" stroke-width="0.5" />
<text x="328.90" y="183.12" font-size="4.3" fill="#000" stroke="#000" stroke-width="0.15" text-anchor="middle" transform="rotate(-90 328.90 183.12)">60</text>
<line x1="331.40" y1="172.76" x2="333.60" y2="172.76" stroke="#000" stroke-width="0.5" />
<text x="328.90" y="172.76" font-size="4.3" fill="#000" stroke="#000" stroke-width="0.15" text-anchor="middle" transform="rotate(-90 328.90 172.76)">80</text>
<line x1="331.40" y1="162.40" x2="333.60" y2="162.40" stroke="#000" stroke-width="0.5" />
<text x="328.90" y="162.40" font-size="4.3" fill="#000" stroke="#000" stroke-width="0.15" text-anchor="middle" transform="rotate(-90 328.90 162.40)">100</text>
<line x1="332.30" y1="209.02" x2="333.60" y2="209.02" stroke="#000" stroke-width="0.4" />
<line x1="332.30" y1="198.66" x2="333.60" y2="198.66" stroke="#000" stroke-width="0.4" />
<line x1="332.30" y1="188.30" x2="333.60" y2="188.30" stroke="#000" stroke-width="0.4" />
<line x1="332.30" y1="177.94" x2="333.60" y2="177.94" stroke="#000" stroke-width="0.4" />
<line x1="332.30" y1="167.58" x2="333.60" y2="167.58" stroke="#000" stroke-width="0.4" />
<text x="383.80" y="168.80" font-size="6.0" font-weight="bold" text-anchor="end" fill="#000" stroke="#000" stroke-width="0.22" >MFI : 351.63</text>
<path d="M398.30 214.20 L398.30 204.36 L398.88 204.59 L399.46 205.80 L400.04 206.15 L400.62 205.69 L401.21 205.64 L401.79 205.94 L402.37 206.20 L402.95 204.71 L403.53 204.54 L404.11 202.87 L404.69 201.37 L405.27 199.01 L405.85 198.91 L406.44 197.71 L407.02 198.22 L407.60 198.34 L408.18 198.18 L408.76 196.89 L409.34 198.28 L409.92 199.96 L410.50 198.53 L411.08 194.26 L411.67 190.68 L412.25 189.76 L412.83 189.90 L413.41 187.56 L413.99 185.82 L414.57 188.24 L415.15 187.11 L415.73 183.48 L416.31 180.89 L416.90 177.05 L417.48 177.77 L418.06 171.48 L418.64 169.50 L419.22 173.28 L419.80 177.76 L420.38 175.29 L420.96 179.93 L421.54 177.27 L422.13 181.08 L422.71 183.24 L423.29 186.51 L423.87 194.34 L424.45 198.48 L425.03 203.25 L425.61 207.27 L426.19 210.71 L426.77 211.53 L427.36 212.23 L427.94 212.99 L428.52 213.25 L429.10 213.39 L429.68 213.54 L430.26 213.68 L430.84 213.83 L431.42 213.94 L432.00 213.99 L432.59 214.03 L433.17 214.07 L433.75 214.11 L434.33 214.16 L434.91 214.20 L435.49 214.20 L436.07 214.20 L436.65 214.20 L437.23 214.20 L437.82 214.20 L438.40 214.20 L438.98 214.20 L439.56 214.20 L440.14 214.20 L440.72 214.20 L441.30 214.20 L441.88 214.20 L442.46 214.20 L443.05 214.20 L443.63 214.20 L444.21 214.20 L444.79 214.20 L445.37 214.20 L445.95 214.20 L446.53 214.20 L447.11 214.20 L447.69 214.20 L448.28 214.20 L448.86 214.20 L449.44 214.20 L450.02 214.20 L450.60 214.20 L450.60 214.20 Z" fill="#000" stroke="#000" stroke-width="0.4" stroke-linejoin="round"/>
<rect x="398.30" y="162.40" width="52.30" height="51.80" fill="none" stroke="#000" stroke-width="1.25" />
<line x1="399.10" y1="214.20" x2="399.10" y2="216.40" stroke="#000" stroke-width="0.6" />
<text x="398.90" y="222.10" font-size="4.5" text-anchor="middle" fill="#000" stroke="#000" stroke-width="0.22">10<tspan dy="-2.4" font-size="5">0</tspan></text>
<line x1="411.98" y1="214.20" x2="411.98" y2="216.40" stroke="#000" stroke-width="0.6" />
<text x="411.78" y="222.10" font-size="4.5" text-anchor="middle" fill="#000" stroke="#000" stroke-width="0.22">10<tspan dy="-2.4" font-size="5">1</tspan></text>
<line x1="424.85" y1="214.20" x2="424.85" y2="216.40" stroke="#000" stroke-width="0.6" />
<text x="424.65" y="222.10" font-size="4.5" text-anchor="middle" fill="#000" stroke="#000" stroke-width="0.22">10<tspan dy="-2.4" font-size="5">2</tspan></text>
<line x1="437.73" y1="214.20" x2="437.73" y2="216.40" stroke="#000" stroke-width="0.6" />
<text x="437.53" y="222.10" font-size="4.5" text-anchor="middle" fill="#000" stroke="#000" stroke-width="0.22">10<tspan dy="-2.4" font-size="5">3</tspan></text>
<line x1="450.60" y1="214.20" x2="450.60" y2="216.40" stroke="#000" stroke-width="0.6" />
<text x="450.40" y="222.10" font-size="4.5" text-anchor="middle" fill="#000" stroke="#000" stroke-width="0.22">10<tspan dy="-2.4" font-size="5">4</tspan></text>
<line x1="402.98" y1="214.20" x2="402.98" y2="215.40" stroke="#000" stroke-width="0.35" />
<line x1="405.24" y1="214.20" x2="405.24" y2="215.40" stroke="#000" stroke-width="0.35" />
<line x1="408.10" y1="214.20" x2="408.10" y2="215.40" stroke="#000" stroke-width="0.35" />
<line x1="409.98" y1="214.20" x2="409.98" y2="215.40" stroke="#000" stroke-width="0.35" />
<line x1="415.85" y1="214.20" x2="415.85" y2="215.40" stroke="#000" stroke-width="0.35" />
<line x1="418.12" y1="214.20" x2="418.12" y2="215.40" stroke="#000" stroke-width="0.35" />
<line x1="420.97" y1="214.20" x2="420.97" y2="215.40" stroke="#000" stroke-width="0.35" />
<line x1="422.86" y1="214.20" x2="422.86" y2="215.40" stroke="#000" stroke-width="0.35" />
<line x1="428.73" y1="214.20" x2="428.73" y2="215.40" stroke="#000" stroke-width="0.35" />
<line x1="430.99" y1="214.20" x2="430.99" y2="215.40" stroke="#000" stroke-width="0.35" />
<line x1="433.85" y1="214.20" x2="433.85" y2="215.40" stroke="#000" stroke-width="0.35" />
<line x1="435.73" y1="214.20" x2="435.73" y2="215.40" stroke="#000" stroke-width="0.35" />
<line x1="441.60" y1="214.20" x2="441.60" y2="215.40" stroke="#000" stroke-width="0.35" />
<line x1="443.87" y1="214.20" x2="443.87" y2="215.40" stroke="#000" stroke-width="0.35" />
<line x1="446.72" y1="214.20" x2="446.72" y2="215.40" stroke="#000" stroke-width="0.35" />
<line x1="448.61" y1="214.20" x2="448.61" y2="215.40" stroke="#000" stroke-width="0.35" />
<line x1="396.10" y1="214.20" x2="398.30" y2="214.20" stroke="#000" stroke-width="0.5" />
<text x="393.60" y="214.20" font-size="4.3" fill="#000" stroke="#000" stroke-width="0.15" text-anchor="middle" transform="rotate(-90 393.60 214.20)">0</text>
<line x1="396.10" y1="203.84" x2="398.30" y2="203.84" stroke="#000" stroke-width="0.5" />
<text x="393.60" y="203.84" font-size="4.3" fill="#000" stroke="#000" stroke-width="0.15" text-anchor="middle" transform="rotate(-90 393.60 203.84)">20</text>
<line x1="396.10" y1="193.48" x2="398.30" y2="193.48" stroke="#000" stroke-width="0.5" />
<text x="393.60" y="193.48" font-size="4.3" fill="#000" stroke="#000" stroke-width="0.15" text-anchor="middle" transform="rotate(-90 393.60 193.48)">40</text>
<line x1="396.10" y1="183.12" x2="398.30" y2="183.12" stroke="#000" stroke-width="0.5" />
<text x="393.60" y="183.12" font-size="4.3" fill="#000" stroke="#000" stroke-width="0.15" text-anchor="middle" transform="rotate(-90 393.60 183.12)">60</text>
<line x1="396.10" y1="172.76" x2="398.30" y2="172.76" stroke="#000" stroke-width="0.5" />
<text x="393.60" y="172.76" font-size="4.3" fill="#000" stroke="#000" stroke-width="0.15" text-anchor="middle" transform="rotate(-90 393.60 172.76)">80</text>
<line x1="396.10" y1="162.40" x2="398.30" y2="162.40" stroke="#000" stroke-width="0.5" />
<text x="393.60" y="162.40" font-size="4.3" fill="#000" stroke="#000" stroke-width="0.15" text-anchor="middle" transform="rotate(-90 393.60 162.40)">100</text>
<line x1="397.00" y1="209.02" x2="398.30" y2="209.02" stroke="#000" stroke-width="0.4" />
<line x1="397.00" y1="198.66" x2="398.30" y2="198.66" stroke="#000" stroke-width="0.4" />
<line x1="397.00" y1="188.30" x2="398.30" y2="188.30" stroke="#000" stroke-width="0.4" />
<line x1="397.00" y1="177.94" x2="398.30" y2="177.94" stroke="#000" stroke-width="0.4" />
<line x1="397.00" y1="167.58" x2="398.30" y2="167.58" stroke="#000" stroke-width="0.4" />
<text x="448.60" y="168.80" font-size="6.0" font-weight="bold" text-anchor="end" fill="#000" stroke="#000" stroke-width="0.22" >MFI : 28.67</text>
<path d="M464.00 214.20 L464.00 206.95 L464.58 205.59 L465.16 204.81 L465.74 202.22 L466.32 202.61 L466.89 201.66 L467.47 200.50 L468.05 198.47 L468.63 196.00 L469.21 194.94 L469.79 194.36 L470.37 192.78 L470.95 192.28 L471.53 194.48 L472.10 195.89 L472.68 194.54 L473.26 196.47 L473.84 199.79 L474.42 199.90 L475.00 202.26 L475.58 203.56 L476.16 203.29 L476.74 203.26 L477.31 203.26 L477.89 203.28 L478.47 204.35 L479.05 204.65 L479.63 206.67 L480.21 206.38 L480.79 208.05 L481.37 208.38 L481.95 207.73 L482.52 207.55 L483.10 207.79 L483.68 208.05 L484.26 206.53 L484.84 205.41 L485.42 203.22 L486.00 203.26 L486.58 201.10 L487.16 197.42 L487.73 197.58 L488.31 194.13 L488.89 190.39 L489.47 188.45 L490.05 189.60 L490.63 187.76 L491.21 185.75 L491.79 180.39 L492.37 183.18 L492.94 179.70 L493.52 179.35 L494.10 183.06 L494.68 184.77 L495.26 182.96 L495.84 186.83 L496.42 190.95 L497.00 191.81 L497.58 195.80 L498.15 198.45 L498.73 201.59 L499.31 202.58 L499.89 205.07 L500.47 208.15 L501.05 208.89 L501.63 210.55 L502.21 211.33 L502.79 212.18 L503.36 212.63 L503.94 212.80 L504.52 213.09 L505.10 213.18 L505.68 213.35 L506.26 213.52 L506.84 213.67 L507.42 213.73 L508.00 213.79 L508.57 213.85 L509.15 213.91 L509.73 213.97 L510.31 214.03 L510.89 214.09 L511.47 214.15 L512.05 214.20 L512.63 214.20 L513.21 214.20 L513.78 214.20 L514.36 214.20 L514.94 214.20 L515.52 214.20 L516.10 214.20 L516.10 214.20 Z" fill="#000" stroke="#000" stroke-width="0.4" stroke-linejoin="round"/>
<rect x="464.00" y="162.40" width="52.10" height="51.80" fill="none" stroke="#000" stroke-width="1.25" />
<line x1="464.80" y1="214.20" x2="464.80" y2="216.40" stroke="#000" stroke-width="0.6" />
<text x="464.60" y="222.10" font-size="4.5" text-anchor="middle" fill="#000" stroke="#000" stroke-width="0.22">10<tspan dy="-2.4" font-size="5">0</tspan></text>
<line x1="477.62" y1="214.20" x2="477.62" y2="216.40" stroke="#000" stroke-width="0.6" />
<text x="477.43" y="222.10" font-size="4.5" text-anchor="middle" fill="#000" stroke="#000" stroke-width="0.22">10<tspan dy="-2.4" font-size="5">1</tspan></text>
<line x1="490.45" y1="214.20" x2="490.45" y2="216.40" stroke="#000" stroke-width="0.6" />
<text x="490.25" y="222.10" font-size="4.5" text-anchor="middle" fill="#000" stroke="#000" stroke-width="0.22">10<tspan dy="-2.4" font-size="5">2</tspan></text>
<line x1="503.28" y1="214.20" x2="503.28" y2="216.40" stroke="#000" stroke-width="0.6" />
<text x="503.08" y="222.10" font-size="4.5" text-anchor="middle" fill="#000" stroke="#000" stroke-width="0.22">10<tspan dy="-2.4" font-size="5">3</tspan></text>
<line x1="516.10" y1="214.20" x2="516.10" y2="216.40" stroke="#000" stroke-width="0.6" />
<text x="515.90" y="222.10" font-size="4.5" text-anchor="middle" fill="#000" stroke="#000" stroke-width="0.22">10<tspan dy="-2.4" font-size="5">4</tspan></text>
<line x1="468.66" y1="214.20" x2="468.66" y2="215.40" stroke="#000" stroke-width="0.35" />
<line x1="470.92" y1="214.20" x2="470.92" y2="215.40" stroke="#000" stroke-width="0.35" />
<line x1="473.76" y1="214.20" x2="473.76" y2="215.40" stroke="#000" stroke-width="0.35" />
<line x1="475.64" y1="214.20" x2="475.64" y2="215.40" stroke="#000" stroke-width="0.35" />
<line x1="481.49" y1="214.20" x2="481.49" y2="215.40" stroke="#000" stroke-width="0.35" />
<line x1="483.74" y1="214.20" x2="483.74" y2="215.40" stroke="#000" stroke-width="0.35" />
<line x1="486.59" y1="214.20" x2="486.59" y2="215.40" stroke="#000" stroke-width="0.35" />
<line x1="488.46" y1="214.20" x2="488.46" y2="215.40" stroke="#000" stroke-width="0.35" />
<line x1="494.31" y1="214.20" x2="494.31" y2="215.40" stroke="#000" stroke-width="0.35" />
<line x1="496.57" y1="214.20" x2="496.57" y2="215.40" stroke="#000" stroke-width="0.35" />
<line x1="499.41" y1="214.20" x2="499.41" y2="215.40" stroke="#000" stroke-width="0.35" />
<line x1="501.29" y1="214.20" x2="501.29" y2="215.40" stroke="#000" stroke-width="0.35" />
<line x1="507.14" y1="214.20" x2="507.14" y2="215.40" stroke="#000" stroke-width="0.35" />
<line x1="509.39" y1="214.20" x2="509.39" y2="215.40" stroke="#000" stroke-width="0.35" />
<line x1="512.24" y1="214.20" x2="512.24" y2="215.40" stroke="#000" stroke-width="0.35" />
<line x1="514.11" y1="214.20" x2="514.11" y2="215.40" stroke="#000" stroke-width="0.35" />
<line x1="461.80" y1="214.20" x2="464.00" y2="214.20" stroke="#000" stroke-width="0.5" />
<text x="459.30" y="214.20" font-size="4.3" fill="#000" stroke="#000" stroke-width="0.15" text-anchor="middle" transform="rotate(-90 459.30 214.20)">0</text>
<line x1="461.80" y1="205.57" x2="464.00" y2="205.57" stroke="#000" stroke-width="0.5" />
<text x="459.30" y="205.57" font-size="4.3" fill="#000" stroke="#000" stroke-width="0.15" text-anchor="middle" transform="rotate(-90 459.30 205.57)">20</text>
<line x1="461.80" y1="196.93" x2="464.00" y2="196.93" stroke="#000" stroke-width="0.5" />
<text x="459.30" y="196.93" font-size="4.3" fill="#000" stroke="#000" stroke-width="0.15" text-anchor="middle" transform="rotate(-90 459.30 196.93)">40</text>
<line x1="461.80" y1="188.30" x2="464.00" y2="188.30" stroke="#000" stroke-width="0.5" />
<text x="459.30" y="188.30" font-size="4.3" fill="#000" stroke="#000" stroke-width="0.15" text-anchor="middle" transform="rotate(-90 459.30 188.30)">60</text>
<line x1="461.80" y1="179.67" x2="464.00" y2="179.67" stroke="#000" stroke-width="0.5" />
<text x="459.30" y="179.67" font-size="4.3" fill="#000" stroke="#000" stroke-width="0.15" text-anchor="middle" transform="rotate(-90 459.30 179.67)">80</text>
<line x1="461.80" y1="171.03" x2="464.00" y2="171.03" stroke="#000" stroke-width="0.5" />
<text x="459.30" y="171.03" font-size="4.3" fill="#000" stroke="#000" stroke-width="0.15" text-anchor="middle" transform="rotate(-90 459.30 171.03)">100</text>
<line x1="461.80" y1="162.40" x2="464.00" y2="162.40" stroke="#000" stroke-width="0.5" />
<text x="459.30" y="162.40" font-size="4.3" fill="#000" stroke="#000" stroke-width="0.15" text-anchor="middle" transform="rotate(-90 459.30 162.40)">120</text>
<line x1="462.70" y1="209.88" x2="464.00" y2="209.88" stroke="#000" stroke-width="0.4" />
<line x1="462.70" y1="201.25" x2="464.00" y2="201.25" stroke="#000" stroke-width="0.4" />
<line x1="462.70" y1="192.62" x2="464.00" y2="192.62" stroke="#000" stroke-width="0.4" />
<line x1="462.70" y1="183.98" x2="464.00" y2="183.98" stroke="#000" stroke-width="0.4" />
<line x1="462.70" y1="175.35" x2="464.00" y2="175.35" stroke="#000" stroke-width="0.4" />
<line x1="462.70" y1="166.72" x2="464.00" y2="166.72" stroke="#000" stroke-width="0.4" />
<text x="514.10" y="168.80" font-size="6.0" font-weight="bold" text-anchor="end" fill="#000" stroke="#000" stroke-width="0.22" >MFI : 109.07</text>
<path d="M270.40 286.10 L270.40 272.22 L270.97 273.01 L271.54 274.04 L272.12 274.06 L272.69 276.17 L273.26 275.67 L273.83 276.37 L274.41 276.33 L274.98 276.29 L275.55 276.43 L276.12 276.12 L276.69 275.03 L277.27 273.83 L277.84 271.74 L278.41 272.46 L278.98 271.62 L279.56 269.59 L280.13 270.39 L280.70 270.35 L281.27 269.68 L281.84 267.29 L282.42 267.20 L282.99 264.15 L283.56 264.60 L284.13 265.37 L284.71 268.62 L285.28 269.79 L285.85 270.17 L286.42 268.47 L286.99 267.28 L287.57 267.55 L288.14 267.70 L288.71 266.75 L289.28 265.76 L289.86 265.27 L290.43 264.69 L291.00 263.64 L291.57 263.14 L292.14 264.13 L292.72 260.10 L293.29 261.30 L293.86 259.56 L294.43 259.87 L295.01 257.65 L295.58 259.60 L296.15 258.67 L296.72 257.91 L297.29 257.56 L297.87 252.78 L298.44 254.30 L299.01 256.87 L299.58 258.20 L300.16 257.74 L300.73 262.71 L301.30 266.48 L301.87 267.45 L302.44 271.15 L303.02 273.86 L303.59 278.60 L304.16 280.71 L304.73 281.71 L305.31 283.02 L305.88 284.33 L306.45 284.84 L307.02 284.97 L307.59 285.18 L308.17 285.26 L308.74 285.46 L309.31 285.59 L309.88 285.65 L310.46 285.71 L311.03 285.77 L311.60 285.83 L312.17 285.89 L312.74 285.95 L313.32 286.01 L313.89 286.07 L314.46 286.10 L315.03 286.10 L315.61 286.10 L316.18 286.10 L316.75 286.10 L317.32 286.10 L317.89 286.10 L318.47 286.10 L319.04 286.10 L319.61 286.10 L320.18 286.10 L320.76 286.10 L321.33 286.10 L321.90 286.10 L321.90 286.10 Z" fill="#000" stroke="#000" stroke-width="0.4" stroke-linejoin="round"/>
<rect x="270.40" y="234.70" width="51.50" height="51.40" fill="none" stroke="#000" stroke-width="1.25" />
<line x1="271.20" y1="286.10" x2="271.20" y2="288.30" stroke="#000" stroke-width="0.6" />
<text x="271.00" y="294.00" font-size="4.5" text-anchor="middle" fill="#000" stroke="#000" stroke-width="0.22">10<tspan dy="-2.4" font-size="5">0</tspan></text>
<line x1="283.88" y1="286.10" x2="283.88" y2="288.30" stroke="#000" stroke-width="0.6" />
<text x="283.68" y="294.00" font-size="4.5" text-anchor="middle" fill="#000" stroke="#000" stroke-width="0.22">10<tspan dy="-2.4" font-size="5">1</tspan></text>
<line x1="296.55" y1="286.10" x2="296.55" y2="288.30" stroke="#000" stroke-width="0.6" />
<text x="296.35" y="294.00" font-size="4.5" text-anchor="middle" fill="#000" stroke="#000" stroke-width="0.22">10<tspan dy="-2.4" font-size="5">2</tspan></text>
<line x1="309.23" y1="286.10" x2="309.23" y2="288.30" stroke="#000" stroke-width="0.6" />
<text x="309.03" y="294.00" font-size="4.5" text-anchor="middle" fill="#000" stroke="#000" stroke-width="0.22">10<tspan dy="-2.4" font-size="5">3</tspan></text>
<line x1="321.90" y1="286.10" x2="321.90" y2="288.30" stroke="#000" stroke-width="0.6" />
<text x="321.70" y="294.00" font-size="4.5" text-anchor="middle" fill="#000" stroke="#000" stroke-width="0.22">10<tspan dy="-2.4" font-size="5">4</tspan></text>
<line x1="275.02" y1="286.10" x2="275.02" y2="287.30" stroke="#000" stroke-width="0.35" />
<line x1="277.25" y1="286.10" x2="277.25" y2="287.30" stroke="#000" stroke-width="0.35" />
<line x1="280.06" y1="286.10" x2="280.06" y2="287.30" stroke="#000" stroke-width="0.35" />
<line x1="281.91" y1="286.10" x2="281.91" y2="287.30" stroke="#000" stroke-width="0.35" />
<line x1="287.69" y1="286.10" x2="287.69" y2="287.30" stroke="#000" stroke-width="0.35" />
<line x1="289.92" y1="286.10" x2="289.92" y2="287.30" stroke="#000" stroke-width="0.35" />
<line x1="292.73" y1="286.10" x2="292.73" y2="287.30" stroke="#000" stroke-width="0.35" />
<line x1="294.59" y1="286.10" x2="294.59" y2="287.30" stroke="#000" stroke-width="0.35" />
<line x1="300.37" y1="286.10" x2="300.37" y2="287.30" stroke="#000" stroke-width="0.35" />
<line x1="302.60" y1="286.10" x2="302.60" y2="287.30" stroke="#000" stroke-width="0.35" />
<line x1="305.41" y1="286.10" x2="305.41" y2="287.30" stroke="#000" stroke-width="0.35" />
<line x1="307.26" y1="286.10" x2="307.26" y2="287.30" stroke="#000" stroke-width="0.35" />
<line x1="313.04" y1="286.10" x2="313.04" y2="287.30" stroke="#000" stroke-width="0.35" />
<line x1="315.27" y1="286.10" x2="315.27" y2="287.30" stroke="#000" stroke-width="0.35" />
<line x1="318.08" y1="286.10" x2="318.08" y2="287.30" stroke="#000" stroke-width="0.35" />
<line x1="319.94" y1="286.10" x2="319.94" y2="287.30" stroke="#000" stroke-width="0.35" />
<line x1="268.20" y1="286.10" x2="270.40" y2="286.10" stroke="#000" stroke-width="0.5" />
<text x="265.70" y="286.10" font-size="4.3" fill="#000" stroke="#000" stroke-width="0.15" text-anchor="middle" transform="rotate(-90 265.70 286.10)">0</text>
<line x1="268.20" y1="279.68" x2="270.40" y2="279.68" stroke="#000" stroke-width="0.5" />
<text x="265.70" y="279.68" font-size="4.3" fill="#000" stroke="#000" stroke-width="0.15" text-anchor="middle" transform="rotate(-90 265.70 279.68)">10</text>
<line x1="268.20" y1="273.25" x2="270.40" y2="273.25" stroke="#000" stroke-width="0.5" />
<text x="265.70" y="273.25" font-size="4.3" fill="#000" stroke="#000" stroke-width="0.15" text-anchor="middle" transform="rotate(-90 265.70 273.25)">20</text>
<line x1="268.20" y1="266.82" x2="270.40" y2="266.82" stroke="#000" stroke-width="0.5" />
<text x="265.70" y="266.82" font-size="4.3" fill="#000" stroke="#000" stroke-width="0.15" text-anchor="middle" transform="rotate(-90 265.70 266.82)">30</text>
<line x1="268.20" y1="260.40" x2="270.40" y2="260.40" stroke="#000" stroke-width="0.5" />
<text x="265.70" y="260.40" font-size="4.3" fill="#000" stroke="#000" stroke-width="0.15" text-anchor="middle" transform="rotate(-90 265.70 260.40)">40</text>
<line x1="268.20" y1="253.97" x2="270.40" y2="253.97" stroke="#000" stroke-width="0.5" />
<text x="265.70" y="253.97" font-size="4.3" fill="#000" stroke="#000" stroke-width="0.15" text-anchor="middle" transform="rotate(-90 265.70 253.97)">50</text>
<line x1="268.20" y1="247.55" x2="270.40" y2="247.55" stroke="#000" stroke-width="0.5" />
<text x="265.70" y="247.55" font-size="4.3" fill="#000" stroke="#000" stroke-width="0.15" text-anchor="middle" transform="rotate(-90 265.70 247.55)">60</text>
<line x1="268.20" y1="241.12" x2="270.40" y2="241.12" stroke="#000" stroke-width="0.5" />
<text x="265.70" y="241.12" font-size="4.3" fill="#000" stroke="#000" stroke-width="0.15" text-anchor="middle" transform="rotate(-90 265.70 241.12)">70</text>
<line x1="268.20" y1="234.70" x2="270.40" y2="234.70" stroke="#000" stroke-width="0.5" />
<text x="265.70" y="234.70" font-size="4.3" fill="#000" stroke="#000" stroke-width="0.15" text-anchor="middle" transform="rotate(-90 265.70 234.70)">80</text>
<line x1="269.10" y1="282.89" x2="270.40" y2="282.89" stroke="#000" stroke-width="0.4" />
<line x1="269.10" y1="276.46" x2="270.40" y2="276.46" stroke="#000" stroke-width="0.4" />
<line x1="269.10" y1="270.04" x2="270.40" y2="270.04" stroke="#000" stroke-width="0.4" />
<line x1="269.10" y1="263.61" x2="270.40" y2="263.61" stroke="#000" stroke-width="0.4" />
<line x1="269.10" y1="257.19" x2="270.40" y2="257.19" stroke="#000" stroke-width="0.4" />
<line x1="269.10" y1="250.76" x2="270.40" y2="250.76" stroke="#000" stroke-width="0.4" />
<line x1="269.10" y1="244.34" x2="270.40" y2="244.34" stroke="#000" stroke-width="0.4" />
<line x1="269.10" y1="237.91" x2="270.40" y2="237.91" stroke="#000" stroke-width="0.4" />
<text x="319.90" y="241.10" font-size="6.0" font-weight="bold" text-anchor="end" fill="#000" stroke="#000" stroke-width="0.22" >MFI : 72.47</text>
<path d="M333.60 286.10 L333.60 285.13 L334.18 284.79 L334.76 284.68 L335.34 284.28 L335.92 283.88 L336.50 283.09 L337.08 282.49 L337.66 280.52 L338.24 277.74 L338.82 274.27 L339.40 272.04 L339.98 266.68 L340.56 262.06 L341.14 259.38 L341.72 254.27 L342.30 252.46 L342.88 249.78 L343.46 247.55 L344.04 244.04 L344.62 242.84 L345.20 246.63 L345.78 248.55 L346.36 247.10 L346.94 245.53 L347.52 251.33 L348.10 253.41 L348.68 256.71 L349.26 256.55 L349.84 259.59 L350.42 262.75 L351.00 263.60 L351.58 263.06 L352.16 260.21 L352.74 257.52 L353.32 257.80 L353.90 255.09 L354.48 249.77 L355.06 249.21 L355.64 247.96 L356.22 246.37 L356.80 240.31 L357.38 245.68 L357.96 245.80 L358.54 249.20 L359.12 250.91 L359.70 250.31 L360.28 251.43 L360.86 256.52 L361.44 259.01 L362.02 258.25 L362.60 262.27 L363.18 264.69 L363.76 263.03 L364.34 266.48 L364.92 267.39 L365.50 270.88 L366.08 272.06 L366.66 275.26 L367.24 277.64 L367.82 279.19 L368.40 279.96 L368.98 281.35 L369.56 282.58 L370.14 283.37 L370.72 283.47 L371.30 283.92 L371.88 284.23 L372.46 284.67 L373.04 284.98 L373.62 285.08 L374.20 285.17 L374.78 285.27 L375.36 285.36 L375.94 285.45 L376.52 285.55 L377.10 285.64 L377.68 285.73 L378.26 285.79 L378.84 285.81 L379.42 285.84 L380.00 285.86 L380.58 285.89 L381.16 285.91 L381.74 285.93 L382.32 285.96 L382.90 285.98 L383.48 286.00 L384.06 286.03 L384.64 286.05 L385.22 286.08 L385.80 286.10 L385.80 286.10 Z" fill="#000" stroke="#000" stroke-width="0.4" stroke-linejoin="round"/>
<rect x="333.60" y="234.70" width="52.20" height="51.40" fill="none" stroke="#000" stroke-width="1.25" />
<line x1="334.40" y1="286.10" x2="334.40" y2="288.30" stroke="#000" stroke-width="0.6" />
<text x="334.20" y="294.00" font-size="4.5" text-anchor="middle" fill="#000" stroke="#000" stroke-width="0.22">10<tspan dy="-2.4" font-size="5">0</tspan></text>
<line x1="347.25" y1="286.10" x2="347.25" y2="288.30" stroke="#000" stroke-width="0.6" />
<text x="347.05" y="294.00" font-size="4.5" text-anchor="middle" fill="#000" stroke="#000" stroke-width="0.22">10<tspan dy="-2.4" font-size="5">1</tspan></text>
<line x1="360.10" y1="286.10" x2="360.10" y2="288.30" stroke="#000" stroke-width="0.6" />
<text x="359.90" y="294.00" font-size="4.5" text-anchor="middle" fill="#000" stroke="#000" stroke-width="0.22">10<tspan dy="-2.4" font-size="5">2</tspan></text>
<line x1="372.95" y1="286.10" x2="372.95" y2="288.30" stroke="#000" stroke-width="0.6" />
<text x="372.75" y="294.00" font-size="4.5" text-anchor="middle" fill="#000" stroke="#000" stroke-width="0.22">10<tspan dy="-2.4" font-size="5">3</tspan></text>
<line x1="385.80" y1="286.10" x2="385.80" y2="288.30" stroke="#000" stroke-width="0.6" />
<text x="385.60" y="294.00" font-size="4.5" text-anchor="middle" fill="#000" stroke="#000" stroke-width="0.22">10<tspan dy="-2.4" font-size="5">4</tspan></text>
<line x1="338.27" y1="286.10" x2="338.27" y2="287.30" stroke="#000" stroke-width="0.35" />
<line x1="340.53" y1="286.10" x2="340.53" y2="287.30" stroke="#000" stroke-width="0.35" />
<line x1="343.38" y1="286.10" x2="343.38" y2="287.30" stroke="#000" stroke-width="0.35" />
<line x1="345.26" y1="286.10" x2="345.26" y2="287.30" stroke="#000" stroke-width="0.35" />
<line x1="351.12" y1="286.10" x2="351.12" y2="287.30" stroke="#000" stroke-width="0.35" />
<line x1="353.38" y1="286.10" x2="353.38" y2="287.30" stroke="#000" stroke-width="0.35" />
<line x1="356.23" y1="286.10" x2="356.23" y2="287.30" stroke="#000" stroke-width="0.35" />
<line x1="358.11" y1="286.10" x2="358.11" y2="287.30" stroke="#000" stroke-width="0.35" />
<line x1="363.97" y1="286.10" x2="363.97" y2="287.30" stroke="#000" stroke-width="0.35" />
<line x1="366.23" y1="286.10" x2="366.23" y2="287.30" stroke="#000" stroke-width="0.35" />
<line x1="369.08" y1="286.10" x2="369.08" y2="287.30" stroke="#000" stroke-width="0.35" />
<line x1="370.96" y1="286.10" x2="370.96" y2="287.30" stroke="#000" stroke-width="0.35" />
<line x1="376.82" y1="286.10" x2="376.82" y2="287.30" stroke="#000" stroke-width="0.35" />
<line x1="379.08" y1="286.10" x2="379.08" y2="287.30" stroke="#000" stroke-width="0.35" />
<line x1="381.93" y1="286.10" x2="381.93" y2="287.30" stroke="#000" stroke-width="0.35" />
<line x1="383.81" y1="286.10" x2="383.81" y2="287.30" stroke="#000" stroke-width="0.35" />
<line x1="331.40" y1="286.10" x2="333.60" y2="286.10" stroke="#000" stroke-width="0.5" />
<text x="328.90" y="286.10" font-size="4.3" fill="#000" stroke="#000" stroke-width="0.15" text-anchor="middle" transform="rotate(-90 328.90 286.10)">0</text>
<line x1="331.40" y1="275.82" x2="333.60" y2="275.82" stroke="#000" stroke-width="0.5" />
<text x="328.90" y="275.82" font-size="4.3" fill="#000" stroke="#000" stroke-width="0.15" text-anchor="middle" transform="rotate(-90 328.90 275.82)">20</text>
<line x1="331.40" y1="265.54" x2="333.60" y2="265.54" stroke="#000" stroke-width="0.5" />
<text x="328.90" y="265.54" font-size="4.3" fill="#000" stroke="#000" stroke-width="0.15" text-anchor="middle" transform="rotate(-90 328.90 265.54)">40</text>
<line x1="331.40" y1="255.26" x2="333.60" y2="255.26" stroke="#000" stroke-width="0.5" />
<text x="328.90" y="255.26" font-size="4.3" fill="#000" stroke="#000" stroke-width="0.15" text-anchor="middle" transform="rotate(-90 328.90 255.26)">60</text>
<line x1="331.40" y1="244.98" x2="333.60" y2="244.98" stroke="#000" stroke-width="0.5" />
<text x="328.90" y="244.98" font-size="4.3" fill="#000" stroke="#000" stroke-width="0.15" text-anchor="middle" transform="rotate(-90 328.90 244.98)">80</text>
<line x1="331.40" y1="234.70" x2="333.60" y2="234.70" stroke="#000" stroke-width="0.5" />
<text x="328.90" y="234.70" font-size="4.3" fill="#000" stroke="#000" stroke-width="0.15" text-anchor="middle" transform="rotate(-90 328.90 234.70)">100</text>
<line x1="332.30" y1="280.96" x2="333.60" y2="280.96" stroke="#000" stroke-width="0.4" />
<line x1="332.30" y1="270.68" x2="333.60" y2="270.68" stroke="#000" stroke-width="0.4" />
<line x1="332.30" y1="260.40" x2="333.60" y2="260.40" stroke="#000" stroke-width="0.4" />
<line x1="332.30" y1="250.12" x2="333.60" y2="250.12" stroke="#000" stroke-width="0.4" />
<line x1="332.30" y1="239.84" x2="333.60" y2="239.84" stroke="#000" stroke-width="0.4" />
<text x="383.80" y="241.10" font-size="6.0" font-weight="bold" text-anchor="end" fill="#000" stroke="#000" stroke-width="0.22" >MFI : 62.65</text>
<path d="M398.30 286.10 L398.30 280.26 L398.88 280.35 L399.46 281.51 L400.04 281.58 L400.62 281.57 L401.21 281.69 L401.79 282.05 L402.37 281.92 L402.95 281.10 L403.53 280.86 L404.11 280.88 L404.69 280.91 L405.27 279.13 L405.85 278.32 L406.44 276.10 L407.02 275.09 L407.60 272.97 L408.18 271.64 L408.76 267.01 L409.34 265.99 L409.92 262.50 L410.50 257.84 L411.08 255.08 L411.67 255.74 L412.25 252.99 L412.83 249.91 L413.41 247.38 L413.99 246.91 L414.57 249.20 L415.15 250.42 L415.73 250.30 L416.31 252.52 L416.90 260.06 L417.48 260.87 L418.06 263.45 L418.64 269.10 L419.22 270.09 L419.80 275.00 L420.38 276.63 L420.96 278.89 L421.54 281.01 L422.13 283.01 L422.71 283.49 L423.29 283.96 L423.87 284.56 L424.45 285.05 L425.03 285.16 L425.61 285.30 L426.19 285.44 L426.77 285.58 L427.36 285.72 L427.94 285.80 L428.52 285.84 L429.10 285.88 L429.68 285.92 L430.26 285.96 L430.84 286.00 L431.42 286.04 L432.00 286.08 L432.59 286.10 L433.17 286.10 L433.75 286.10 L434.33 286.10 L434.91 286.10 L435.49 286.10 L436.07 286.10 L436.65 286.10 L437.23 286.10 L437.82 286.10 L438.40 286.10 L438.98 286.10 L439.56 286.10 L440.14 286.10 L440.72 286.10 L441.30 286.10 L441.88 286.10 L442.46 286.10 L443.05 286.10 L443.63 286.10 L444.21 286.10 L444.79 286.10 L445.37 286.10 L445.95 286.10 L446.53 286.10 L447.11 286.10 L447.69 286.10 L448.28 286.10 L448.86 286.10 L449.44 286.10 L450.02 286.10 L450.60 286.10 L450.60 286.10 Z" fill="#000" stroke="#000" stroke-width="0.4" stroke-linejoin="round"/>
<rect x="398.30" y="234.70" width="52.30" height="51.40" fill="none" stroke="#000" stroke-width="1.25" />
<line x1="399.10" y1="286.10" x2="399.10" y2="288.30" stroke="#000" stroke-width="0.6" />
<text x="398.90" y="294.00" font-size="4.5" text-anchor="middle" fill="#000" stroke="#000" stroke-width="0.22">10<tspan dy="-2.4" font-size="5">0</tspan></text>
<line x1="411.98" y1="286.10" x2="411.98" y2="288.30" stroke="#000" stroke-width="0.6" />
<text x="411.78" y="294.00" font-size="4.5" text-anchor="middle" fill="#000" stroke="#000" stroke-width="0.22">10<tspan dy="-2.4" font-size="5">1</tspan></text>
<line x1="424.85" y1="286.10" x2="424.85" y2="288.30" stroke="#000" stroke-width="0.6" />
<text x="424.65" y="294.00" font-size="4.5" text-anchor="middle" fill="#000" stroke="#000" stroke-width="0.22">10<tspan dy="-2.4" font-size="5">2</tspan></text>
<line x1="437.73" y1="286.10" x2="437.73" y2="288.30" stroke="#000" stroke-width="0.6" />
<text x="437.53" y="294.00" font-size="4.5" text-anchor="middle" fill="#000" stroke="#000" stroke-width="0.22">10<tspan dy="-2.4" font-size="5">3</tspan></text>
<line x1="450.60" y1="286.10" x2="450.60" y2="288.30" stroke="#000" stroke-width="0.6" />
<text x="450.40" y="294.00" font-size="4.5" text-anchor="middle" fill="#000" stroke="#000" stroke-width="0.22">10<tspan dy="-2.4" font-size="5">4</tspan></text>
<line x1="402.98" y1="286.10" x2="402.98" y2="287.30" stroke="#000" stroke-width="0.35" />
<line x1="405.24" y1="286.10" x2="405.24" y2="287.30" stroke="#000" stroke-width="0.35" />
<line x1="408.10" y1="286.10" x2="408.10" y2="287.30" stroke="#000" stroke-width="0.35" />
<line x1="409.98" y1="286.10" x2="409.98" y2="287.30" stroke="#000" stroke-width="0.35" />
<line x1="415.85" y1="286.10" x2="415.85" y2="287.30" stroke="#000" stroke-width="0.35" />
<line x1="418.12" y1="286.10" x2="418.12" y2="287.30" stroke="#000" stroke-width="0.35" />
<line x1="420.97" y1="286.10" x2="420.97" y2="287.30" stroke="#000" stroke-width="0.35" />
<line x1="422.86" y1="286.10" x2="422.86" y2="287.30" stroke="#000" stroke-width="0.35" />
<line x1="428.73" y1="286.10" x2="428.73" y2="287.30" stroke="#000" stroke-width="0.35" />
<line x1="430.99" y1="286.10" x2="430.99" y2="287.30" stroke="#000" stroke-width="0.35" />
<line x1="433.85" y1="286.10" x2="433.85" y2="287.30" stroke="#000" stroke-width="0.35" />
<line x1="435.73" y1="286.10" x2="435.73" y2="287.30" stroke="#000" stroke-width="0.35" />
<line x1="441.60" y1="286.10" x2="441.60" y2="287.30" stroke="#000" stroke-width="0.35" />
<line x1="443.87" y1="286.10" x2="443.87" y2="287.30" stroke="#000" stroke-width="0.35" />
<line x1="446.72" y1="286.10" x2="446.72" y2="287.30" stroke="#000" stroke-width="0.35" />
<line x1="448.61" y1="286.10" x2="448.61" y2="287.30" stroke="#000" stroke-width="0.35" />
<line x1="396.10" y1="286.10" x2="398.30" y2="286.10" stroke="#000" stroke-width="0.5" />
<text x="393.60" y="286.10" font-size="4.3" fill="#000" stroke="#000" stroke-width="0.15" text-anchor="middle" transform="rotate(-90 393.60 286.10)">0</text>
<line x1="396.10" y1="275.82" x2="398.30" y2="275.82" stroke="#000" stroke-width="0.5" />
<text x="393.60" y="275.82" font-size="4.3" fill="#000" stroke="#000" stroke-width="0.15" text-anchor="middle" transform="rotate(-90 393.60 275.82)">40</text>
<line x1="396.10" y1="265.54" x2="398.30" y2="265.54" stroke="#000" stroke-width="0.5" />
<text x="393.60" y="265.54" font-size="4.3" fill="#000" stroke="#000" stroke-width="0.15" text-anchor="middle" transform="rotate(-90 393.60 265.54)">80</text>
<line x1="396.10" y1="255.26" x2="398.30" y2="255.26" stroke="#000" stroke-width="0.5" />
<text x="393.60" y="255.26" font-size="4.3" fill="#000" stroke="#000" stroke-width="0.15" text-anchor="middle" transform="rotate(-90 393.60 255.26)">120</text>
<line x1="396.10" y1="244.98" x2="398.30" y2="244.98" stroke="#000" stroke-width="0.5" />
<text x="393.60" y="244.98" font-size="4.3" fill="#000" stroke="#000" stroke-width="0.15" text-anchor="middle" transform="rotate(-90 393.60 244.98)">160</text>
<line x1="396.10" y1="234.70" x2="398.30" y2="234.70" stroke="#000" stroke-width="0.5" />
<text x="393.60" y="234.70" font-size="4.3" fill="#000" stroke="#000" stroke-width="0.15" text-anchor="middle" transform="rotate(-90 393.60 234.70)">200</text>
<line x1="397.00" y1="280.96" x2="398.30" y2="280.96" stroke="#000" stroke-width="0.4" />
<line x1="397.00" y1="270.68" x2="398.30" y2="270.68" stroke="#000" stroke-width="0.4" />
<line x1="397.00" y1="260.40" x2="398.30" y2="260.40" stroke="#000" stroke-width="0.4" />
<line x1="397.00" y1="250.12" x2="398.30" y2="250.12" stroke="#000" stroke-width="0.4" />
<line x1="397.00" y1="239.84" x2="398.30" y2="239.84" stroke="#000" stroke-width="0.4" />
<text x="448.60" y="241.10" font-size="6.0" font-weight="bold" text-anchor="end" fill="#000" stroke="#000" stroke-width="0.22" >MFI : 16.18</text>
<path d="M464.00 286.10 L464.00 280.03 L464.58 279.54 L465.16 279.49 L465.74 278.04 L466.32 277.50 L466.89 277.18 L467.47 275.60 L468.05 274.69 L468.63 272.76 L469.21 271.00 L469.79 267.68 L470.37 267.63 L470.95 267.01 L471.53 265.39 L472.10 266.04 L472.68 264.10 L473.26 263.00 L473.84 264.05 L474.42 260.75 L475.00 262.25 L475.58 260.74 L476.16 261.87 L476.74 264.45 L477.31 267.58 L477.89 267.13 L478.47 268.23 L479.05 267.24 L479.63 270.32 L480.21 269.04 L480.79 268.64 L481.37 268.47 L481.95 267.34 L482.52 268.40 L483.10 264.81 L483.68 264.43 L484.26 260.57 L484.84 258.58 L485.42 259.94 L486.00 255.75 L486.58 253.91 L487.16 257.30 L487.73 255.07 L488.31 252.13 L488.89 254.99 L489.47 251.35 L490.05 255.17 L490.63 253.02 L491.21 257.27 L491.79 258.11 L492.37 259.18 L492.94 264.89 L493.52 267.46 L494.10 269.58 L494.68 272.92 L495.26 275.79 L495.84 277.23 L496.42 278.96 L497.00 279.88 L497.58 281.05 L498.15 281.83 L498.73 283.16 L499.31 283.77 L499.89 284.32 L500.47 284.37 L501.05 284.52 L501.63 284.76 L502.21 284.83 L502.79 285.08 L503.36 285.22 L503.94 285.33 L504.52 285.38 L505.10 285.44 L505.68 285.49 L506.26 285.55 L506.84 285.60 L507.42 285.66 L508.00 285.71 L508.57 285.76 L509.15 285.82 L509.73 285.87 L510.31 285.90 L510.89 285.92 L511.47 285.94 L512.05 285.96 L512.63 285.98 L513.21 286.00 L513.78 286.02 L514.36 286.04 L514.94 286.06 L515.52 286.08 L516.10 286.10 L516.10 286.10 Z" fill="#000" stroke="#000" stroke-width="0.4" stroke-linejoin="round"/>
<rect x="464.00" y="234.70" width="52.10" height="51.40" fill="none" stroke="#000" stroke-width="1.25" />
<line x1="464.80" y1="286.10" x2="464.80" y2="288.30" stroke="#000" stroke-width="0.6" />
<text x="464.60" y="294.00" font-size="4.5" text-anchor="middle" fill="#000" stroke="#000" stroke-width="0.22">10<tspan dy="-2.4" font-size="5">0</tspan></text>
<line x1="477.62" y1="286.10" x2="477.62" y2="288.30" stroke="#000" stroke-width="0.6" />
<text x="477.43" y="294.00" font-size="4.5" text-anchor="middle" fill="#000" stroke="#000" stroke-width="0.22">10<tspan dy="-2.4" font-size="5">1</tspan></text>
<line x1="490.45" y1="286.10" x2="490.45" y2="288.30" stroke="#000" stroke-width="0.6" />
<text x="490.25" y="294.00" font-size="4.5" text-anchor="middle" fill="#000" stroke="#000" stroke-width="0.22">10<tspan dy="-2.4" font-size="5">2</tspan></text>
<line x1="503.28" y1="286.10" x2="503.28" y2="288.30" stroke="#000" stroke-width="0.6" />
<text x="503.08" y="294.00" font-size="4.5" text-anchor="middle" fill="#000" stroke="#000" stroke-width="0.22">10<tspan dy="-2.4" font-size="5">3</tspan></text>
<line x1="516.10" y1="286.10" x2="516.10" y2="288.30" stroke="#000" stroke-width="0.6" />
<text x="515.90" y="294.00" font-size="4.5" text-anchor="middle" fill="#000" stroke="#000" stroke-width="0.22">10<tspan dy="-2.4" font-size="5">4</tspan></text>
<line x1="468.66" y1="286.10" x2="468.66" y2="287.30" stroke="#000" stroke-width="0.35" />
<line x1="470.92" y1="286.10" x2="470.92" y2="287.30" stroke="#000" stroke-width="0.35" />
<line x1="473.76" y1="286.10" x2="473.76" y2="287.30" stroke="#000" stroke-width="0.35" />
<line x1="475.64" y1="286.10" x2="475.64" y2="287.30" stroke="#000" stroke-width="0.35" />
<line x1="481.49" y1="286.10" x2="481.49" y2="287.30" stroke="#000" stroke-width="0.35" />
<line x1="483.74" y1="286.10" x2="483.74" y2="287.30" stroke="#000" stroke-width="0.35" />
<line x1="486.59" y1="286.10" x2="486.59" y2="287.30" stroke="#000" stroke-width="0.35" />
<line x1="488.46" y1="286.10" x2="488.46" y2="287.30" stroke="#000" stroke-width="0.35" />
<line x1="494.31" y1="286.10" x2="494.31" y2="287.30" stroke="#000" stroke-width="0.35" />
<line x1="496.57" y1="286.10" x2="496.57" y2="287.30" stroke="#000" stroke-width="0.35" />
<line x1="499.41" y1="286.10" x2="499.41" y2="287.30" stroke="#000" stroke-width="0.35" />
<line x1="501.29" y1="286.10" x2="501.29" y2="287.30" stroke="#000" stroke-width="0.35" />
<line x1="507.14" y1="286.10" x2="507.14" y2="287.30" stroke="#000" stroke-width="0.35" />
<line x1="509.39" y1="286.10" x2="509.39" y2="287.30" stroke="#000" stroke-width="0.35" />
<line x1="512.24" y1="286.10" x2="512.24" y2="287.30" stroke="#000" stroke-width="0.35" />
<line x1="514.11" y1="286.10" x2="514.11" y2="287.30" stroke="#000" stroke-width="0.35" />
<line x1="461.80" y1="286.10" x2="464.00" y2="286.10" stroke="#000" stroke-width="0.5" />
<text x="459.30" y="286.10" font-size="4.3" fill="#000" stroke="#000" stroke-width="0.15" text-anchor="middle" transform="rotate(-90 459.30 286.10)">0</text>
<line x1="461.80" y1="277.53" x2="464.00" y2="277.53" stroke="#000" stroke-width="0.5" />
<text x="459.30" y="277.53" font-size="4.3" fill="#000" stroke="#000" stroke-width="0.15" text-anchor="middle" transform="rotate(-90 459.30 277.53)">20</text>
<line x1="461.80" y1="268.97" x2="464.00" y2="268.97" stroke="#000" stroke-width="0.5" />
<text x="459.30" y="268.97" font-size="4.3" fill="#000" stroke="#000" stroke-width="0.15" text-anchor="middle" transform="rotate(-90 459.30 268.97)">40</text>
<line x1="461.80" y1="260.40" x2="464.00" y2="260.40" stroke="#000" stroke-width="0.5" />
<text x="459.30" y="260.40" font-size="4.3" fill="#000" stroke="#000" stroke-width="0.15" text-anchor="middle" transform="rotate(-90 459.30 260.40)">60</text>
<line x1="461.80" y1="251.83" x2="464.00" y2="251.83" stroke="#000" stroke-width="0.5" />
<text x="459.30" y="251.83" font-size="4.3" fill="#000" stroke="#000" stroke-width="0.15" text-anchor="middle" transform="rotate(-90 459.30 251.83)">80</text>
<line x1="461.80" y1="243.27" x2="464.00" y2="243.27" stroke="#000" stroke-width="0.5" />
<text x="459.30" y="243.27" font-size="4.3" fill="#000" stroke="#000" stroke-width="0.15" text-anchor="middle" transform="rotate(-90 459.30 243.27)">100</text>
<line x1="461.80" y1="234.70" x2="464.00" y2="234.70" stroke="#000" stroke-width="0.5" />
<text x="459.30" y="234.70" font-size="4.3" fill="#000" stroke="#000" stroke-width="0.15" text-anchor="middle" transform="rotate(-90 459.30 234.70)">120</text>
<line x1="462.70" y1="281.82" x2="464.00" y2="281.82" stroke="#000" stroke-width="0.4" />
<line x1="462.70" y1="273.25" x2="464.00" y2="273.25" stroke="#000" stroke-width="0.4" />
<line x1="462.70" y1="264.68" x2="464.00" y2="264.68" stroke="#000" stroke-width="0.4" />
<line x1="462.70" y1="256.12" x2="464.00" y2="256.12" stroke="#000" stroke-width="0.4" />
<line x1="462.70" y1="247.55" x2="464.00" y2="247.55" stroke="#000" stroke-width="0.4" />
<line x1="462.70" y1="238.98" x2="464.00" y2="238.98" stroke="#000" stroke-width="0.4" />
<text x="514.10" y="241.10" font-size="6.0" font-weight="bold" text-anchor="end" fill="#000" stroke="#000" stroke-width="0.22" >MFI : 58.14</text>
<text x="0.00" y="354.70" font-size="14" font-weight="bold" text-anchor="start" fill="#000" stroke="#000" stroke-width="0.3" >C</text>
<line x1="34.40" y1="356.30" x2="34.40" y2="515.60" stroke="#5c5c5c" stroke-width="0.95" />
<line x1="32.00" y1="512.60" x2="235.00" y2="512.60" stroke="#5c5c5c" stroke-width="1.1" />
<line x1="65.15" y1="512.60" x2="65.15" y2="514.80" stroke="#5c5c5c" stroke-width="0.8" />
<line x1="113.40" y1="512.60" x2="113.40" y2="514.80" stroke="#5c5c5c" stroke-width="0.8" />
<line x1="161.80" y1="512.60" x2="161.80" y2="514.80" stroke="#5c5c5c" stroke-width="0.8" />
<line x1="210.10" y1="512.60" x2="210.10" y2="514.80" stroke="#5c5c5c" stroke-width="0.8" />
<line x1="31.60" y1="512.60" x2="34.40" y2="512.60" stroke="#5c5c5c" stroke-width="0.95" />
<text x="30.60" y="515.00" font-size="6.9" font-weight="bold" text-anchor="end" fill="#000" stroke="#000" stroke-width="0.3" >0</text>
<line x1="31.60" y1="473.53" x2="34.40" y2="473.53" stroke="#5c5c5c" stroke-width="0.95" />
<text x="30.60" y="475.93" font-size="6.9" font-weight="bold" text-anchor="end" fill="#000" stroke="#000" stroke-width="0.3" >20</text>
<line x1="31.60" y1="434.45" x2="34.40" y2="434.45" stroke="#5c5c5c" stroke-width="0.95" />
<text x="30.60" y="436.85" font-size="6.9" font-weight="bold" text-anchor="end" fill="#000" stroke="#000" stroke-width="0.3" >40</text>
<line x1="31.60" y1="395.38" x2="34.40" y2="395.38" stroke="#5c5c5c" stroke-width="0.95" />
<text x="30.60" y="397.77" font-size="6.9" font-weight="bold" text-anchor="end" fill="#000" stroke="#000" stroke-width="0.3" >60</text>
<line x1="31.60" y1="356.30" x2="34.40" y2="356.30" stroke="#5c5c5c" stroke-width="0.95" />
<text x="30.60" y="358.70" font-size="6.9" font-weight="bold" text-anchor="end" fill="#000" stroke="#000" stroke-width="0.3" >80</text>
<text x="10.60" y="425.60" font-size="8.1" font-weight="bold" text-anchor="middle" fill="#000" stroke="#000" stroke-width="0.3" transform="rotate(-90 10.60 425.60)" >Apoptotic cells (%)</text>
<rect x="38.30" y="358.20" width="81.00" height="47.20" fill="#fff" stroke="#9a9a9a" stroke-width="0.7" />
<rect x="47.00" y="366.30" width="13.00" height="4.00" fill="#fff" stroke="#777" stroke-width="0.6" />
<text x="63.30" y="370.80" font-size="7.15" font-weight="bold" text-anchor="start" fill="#000" stroke="#000" stroke-width="0.3" >Ctrl-DCs</text>
<rect x="47.00" y="375.25" width="13.00" height="4.00" fill="#808080" stroke="#777" stroke-width="0.6" />
<text x="63.30" y="379.75" font-size="7.15" font-weight="bold" text-anchor="start" fill="#000" stroke="#000" stroke-width="0.3" >OVA-DCs</text>
<rect x="47.00" y="384.20" width="13.00" height="4.00" fill="#000" stroke="#000" stroke-width="0.6" />
<text x="63.30" y="388.70" font-size="7.15" font-weight="bold" text-anchor="start" fill="#000" stroke="#000" stroke-width="0.3" >OVA-eGFP-DCs</text>
<rect x="47.00" y="393.15" width="13.00" height="4.00" fill="#c0c0c0" stroke="#777" stroke-width="0.6" />
<text x="63.30" y="397.65" font-size="7.15" font-weight="bold" text-anchor="start" fill="#000" stroke="#000" stroke-width="0.3" >OVA-IL-10-DCs</text>
<rect x="50.50" y="506.90" width="7.40" height="5.70" fill="#fff" stroke="#777" stroke-width="0.7" />
<line x1="54.20" y1="504.50" x2="54.20" y2="506.90" stroke="#5c5c5c" stroke-width="0.95" />
<line x1="52.20" y1="504.50" x2="56.20" y2="504.50" stroke="#5c5c5c" stroke-width="0.95" />
<rect x="57.90" y="502.00" width="7.40" height="10.60" fill="#808080" stroke="#5a5a5a" stroke-width="0.7" />
<line x1="61.60" y1="498.30" x2="61.60" y2="502.00" stroke="#5c5c5c" stroke-width="0.95" />
<line x1="59.60" y1="498.30" x2="63.60" y2="498.30" stroke="#5c5c5c" stroke-width="0.95" />
<rect x="65.30" y="497.25" width="7.40" height="15.35" fill="#000" stroke="#000" stroke-width="0.7" />
<line x1="69.00" y1="489.25" x2="69.00" y2="497.25" stroke="#5c5c5c" stroke-width="0.95" />
<line x1="67.00" y1="489.25" x2="71.00" y2="489.25" stroke="#5c5c5c" stroke-width="0.95" />
<rect x="72.70" y="490.10" width="7.40" height="22.50" fill="#c0c0c0" stroke="#7a7a7a" stroke-width="0.7" />
<line x1="76.40" y1="483.50" x2="76.40" y2="490.10" stroke="#5c5c5c" stroke-width="0.95" />
<line x1="74.40" y1="483.50" x2="78.40" y2="483.50" stroke="#5c5c5c" stroke-width="0.95" />
<rect x="98.50" y="504.20" width="7.40" height="8.40" fill="#fff" stroke="#777" stroke-width="0.7" />
<line x1="102.20" y1="502.30" x2="102.20" y2="504.20" stroke="#5c5c5c" stroke-width="0.95" />
<line x1="100.20" y1="502.30" x2="104.20" y2="502.30" stroke="#5c5c5c" stroke-width="0.95" />
<rect x="105.90" y="491.10" width="7.40" height="21.50" fill="#808080" stroke="#5a5a5a" stroke-width="0.7" />
<line x1="109.60" y1="486.30" x2="109.60" y2="491.10" stroke="#5c5c5c" stroke-width="0.95" />
<line x1="107.60" y1="486.30" x2="111.60" y2="486.30" stroke="#5c5c5c" stroke-width="0.95" />
<rect x="113.30" y="485.50" width="7.40" height="27.10" fill="#000" stroke="#000" stroke-width="0.7" />
<line x1="117.00" y1="476.80" x2="117.00" y2="485.50" stroke="#5c5c5c" stroke-width="0.95" />
<line x1="115.00" y1="476.80" x2="119.00" y2="476.80" stroke="#5c5c5c" stroke-width="0.95" />
<rect x="120.70" y="480.20" width="7.40" height="32.40" fill="#c0c0c0" stroke="#7a7a7a" stroke-width="0.7" />
<line x1="124.40" y1="470.60" x2="124.40" y2="480.20" stroke="#5c5c5c" stroke-width="0.95" />
<line x1="122.40" y1="470.60" x2="126.40" y2="470.60" stroke="#5c5c5c" stroke-width="0.95" />
<rect x="147.10" y="499.40" width="7.40" height="13.20" fill="#fff" stroke="#777" stroke-width="0.7" />
<line x1="150.80" y1="495.30" x2="150.80" y2="499.40" stroke="#5c5c5c" stroke-width="0.95" />
<line x1="148.80" y1="495.30" x2="152.80" y2="495.30" stroke="#5c5c5c" stroke-width="0.95" />
<rect x="154.50" y="483.20" width="7.40" height="29.40" fill="#808080" stroke="#5a5a5a" stroke-width="0.7" />
<line x1="158.20" y1="479.50" x2="158.20" y2="483.20" stroke="#5c5c5c" stroke-width="0.95" />
<line x1="156.20" y1="479.50" x2="160.20" y2="479.50" stroke="#5c5c5c" stroke-width="0.95" />
<rect x="161.90" y="480.00" width="7.40" height="32.60" fill="#000" stroke="#000" stroke-width="0.7" />
<line x1="165.60" y1="474.30" x2="165.60" y2="480.00" stroke="#5c5c5c" stroke-width="0.95" />
<line x1="163.60" y1="474.30" x2="167.60" y2="474.30" stroke="#5c5c5c" stroke-width="0.95" />
<rect x="169.30" y="473.70" width="7.40" height="38.90" fill="#c0c0c0" stroke="#7a7a7a" stroke-width="0.7" />
<line x1="173.00" y1="461.60" x2="173.00" y2="473.70" stroke="#5c5c5c" stroke-width="0.95" />
<line x1="171.00" y1="461.60" x2="175.00" y2="461.60" stroke="#5c5c5c" stroke-width="0.95" />
<rect x="195.30" y="498.30" width="7.40" height="14.30" fill="#fff" stroke="#777" stroke-width="0.7" />
<line x1="199.00" y1="492.40" x2="199.00" y2="498.30" stroke="#5c5c5c" stroke-width="0.95" />
<line x1="197.00" y1="492.40" x2="201.00" y2="492.40" stroke="#5c5c5c" stroke-width="0.95" />
<rect x="202.70" y="405.75" width="7.40" height="106.85" fill="#808080" stroke="#5a5a5a" stroke-width="0.7" />
<line x1="206.40" y1="386.75" x2="206.40" y2="405.75" stroke="#5c5c5c" stroke-width="0.95" />
<line x1="204.40" y1="386.75" x2="208.40" y2="386.75" stroke="#5c5c5c" stroke-width="0.95" />
<rect x="210.10" y="402.00" width="7.40" height="110.60" fill="#000" stroke="#000" stroke-width="0.7" />
<line x1="213.80" y1="386.75" x2="213.80" y2="402.00" stroke="#5c5c5c" stroke-width="0.95" />
<line x1="211.80" y1="386.75" x2="215.80" y2="386.75" stroke="#5c5c5c" stroke-width="0.95" />
<rect x="217.50" y="397.00" width="7.40" height="115.60" fill="#c0c0c0" stroke="#7a7a7a" stroke-width="0.7" />
<line x1="221.20" y1="380.00" x2="221.20" y2="397.00" stroke="#5c5c5c" stroke-width="0.95" />
<line x1="219.20" y1="380.00" x2="223.20" y2="380.00" stroke="#5c5c5c" stroke-width="0.95" />
<text x="67.30" y="526.90" font-size="9.5"  text-anchor="middle" fill="#000" stroke="#000" stroke-width="0.15" >d9</text>
<text x="116.20" y="526.90" font-size="9.5"  text-anchor="middle" fill="#000" stroke="#000" stroke-width="0.15" >d10</text>
<text x="164.50" y="526.90" font-size="9.5"  text-anchor="middle" fill="#000" stroke="#000" stroke-width="0.15" >d11</text>
<text x="213.40" y="526.90" font-size="9.5"  text-anchor="middle" fill="#000" stroke="#000" stroke-width="0.15" >d12</text>
<text x="245.20" y="354.30" font-size="14" font-weight="bold" text-anchor="start" fill="#000" stroke="#000" stroke-width="0.3" >D</text>
<line x1="291.40" y1="356.60" x2="291.40" y2="512.70" stroke="#5c5c5c" stroke-width="0.95" />
<line x1="287.80" y1="512.70" x2="291.40" y2="512.70" stroke="#5c5c5c" stroke-width="0.95" />
<text x="288.20" y="516.00" font-size="6.8" font-weight="bold" text-anchor="end" fill="#000" stroke="#000" stroke-width="0.3" >0</text>
<line x1="287.80" y1="473.68" x2="291.40" y2="473.68" stroke="#5c5c5c" stroke-width="0.95" />
<text x="285.40" y="476.08" font-size="6.8" font-weight="bold" text-anchor="end" fill="#000" stroke="#000" stroke-width="0.3" >10000</text>
<line x1="287.80" y1="434.65" x2="291.40" y2="434.65" stroke="#5c5c5c" stroke-width="0.95" />
<text x="285.40" y="437.05" font-size="6.8" font-weight="bold" text-anchor="end" fill="#000" stroke="#000" stroke-width="0.3" >20000</text>
<line x1="287.80" y1="395.62" x2="291.40" y2="395.62" stroke="#5c5c5c" stroke-width="0.95" />
<text x="285.40" y="398.02" font-size="6.8" font-weight="bold" text-anchor="end" fill="#000" stroke="#000" stroke-width="0.3" >30000</text>
<line x1="287.80" y1="356.60" x2="291.40" y2="356.60" stroke="#5c5c5c" stroke-width="0.95" />
<text x="285.40" y="359.00" font-size="6.8" font-weight="bold" text-anchor="end" fill="#000" stroke="#000" stroke-width="0.3" >40000</text>
<text x="258.70" y="426.20" font-size="8.1" font-weight="bold" text-anchor="middle" fill="#000" stroke="#000" stroke-width="0.3" transform="rotate(-90 258.70 426.20)" >IL-10 (pg/ml)</text>
<path d="M291.4 509.0 L363.6 512.0 L363.6 513 L291.4 513.3 Z" fill="#8c8c8c" stroke="#666" stroke-width="0.5"/>
<line x1="291.40" y1="512.90" x2="363.60" y2="512.70" stroke="#000" stroke-width="1.1" />
<line x1="333.60" y1="512.70" x2="509.30" y2="512.70" stroke="#000" stroke-width="1.8" />
<path d="M291.4 387.5 L363.6 391.75 L436.3 485.0 L509.3 504.25" fill="none" stroke="#444" stroke-width="0.95"/>
<line x1="291.40" y1="376.25" x2="291.40" y2="398.75" stroke="#666" stroke-width="0.8" />
<line x1="289.20" y1="376.25" x2="293.60" y2="376.25" stroke="#666" stroke-width="0.8" />
<line x1="289.20" y1="398.75" x2="293.60" y2="398.75" stroke="#666" stroke-width="0.8" />
<line x1="363.60" y1="379.50" x2="363.60" y2="403.00" stroke="#666" stroke-width="0.8" />
<line x1="361.40" y1="379.50" x2="365.80" y2="379.50" stroke="#666" stroke-width="0.8" />
<line x1="361.40" y1="403.00" x2="365.80" y2="403.00" stroke="#666" stroke-width="0.8" />
<line x1="436.30" y1="483.20" x2="436.30" y2="486.80" stroke="#666" stroke-width="0.8" />
<line x1="434.10" y1="483.20" x2="438.50" y2="483.20" stroke="#666" stroke-width="0.8" />
<line x1="434.10" y1="486.80" x2="438.50" y2="486.80" stroke="#666" stroke-width="0.8" />
<line x1="509.30" y1="502.80" x2="509.30" y2="505.70" stroke="#666" stroke-width="0.8" />
<line x1="507.10" y1="502.80" x2="511.50" y2="502.80" stroke="#666" stroke-width="0.8" />
<line x1="507.10" y1="505.70" x2="511.50" y2="505.70" stroke="#666" stroke-width="0.8" />
<path d="M291.4 385.4 L289.29999999999995 389.0 L293.5 389.0 Z" fill="#fff" stroke="#444" stroke-width="0.65"/>
<path d="M363.6 389.65 L361.5 393.25 L365.70000000000005 393.25 Z" fill="#fff" stroke="#444" stroke-width="0.65"/>
<path d="M436.3 482.9 L434.2 486.5 L438.40000000000003 486.5 Z" fill="#fff" stroke="#444" stroke-width="0.65"/>
<path d="M509.3 502.15 L507.2 505.75 L511.40000000000003 505.75 Z" fill="#fff" stroke="#444" stroke-width="0.65"/>
<path d="M289.29999999999995 511.0 L293.5 511.0 L291.4 515.0 Z" fill="#000"/>
<circle cx="291.4" cy="508.9" r="1.7" fill="#fff" stroke="#222" stroke-width="0.7"/>
<circle cx="363.6" cy="512.7" r="2.1" fill="#000"/>
<path d="M361.8 513.2 L365.40000000000003 513.2 L363.6 515.5 Z" fill="#000"/>
<circle cx="436.3" cy="512.7" r="2.1" fill="#000"/>
<path d="M434.5 513.2 L438.1 513.2 L436.3 515.5 Z" fill="#000"/>
<circle cx="509.3" cy="512.7" r="2.1" fill="#000"/>
<path d="M507.5 513.2 L511.1 513.2 L509.3 515.5 Z" fill="#000"/>
<text x="293.10" y="527.60" font-size="9.5"  text-anchor="middle" fill="#000" stroke="#000" stroke-width="0.15" >d9</text>
<text x="366.50" y="527.60" font-size="9.5"  text-anchor="middle" fill="#000" stroke="#000" stroke-width="0.15" >d10</text>
<text x="438.80" y="527.60" font-size="9.5"  text-anchor="middle" fill="#000" stroke="#000" stroke-width="0.15" >d11</text>
<text x="512.60" y="527.60" font-size="9.5"  text-anchor="middle" fill="#000" stroke="#000" stroke-width="0.15" >d12</text>
<rect x="426.30" y="355.00" width="81.20" height="48.00" fill="#fff" stroke="#8a8a8a" stroke-width="0.8" />
<line x1="433.00" y1="367.00" x2="446.30" y2="367.00" stroke="#555" stroke-width="0.7" />
<circle cx="440" cy="367" r="2.2" fill="#000"/>
<text x="451.80" y="369.50" font-size="7.1" font-weight="bold" text-anchor="start" fill="#000" stroke="#000" stroke-width="0.3" >Ctrl-DCs</text>
<line x1="433.00" y1="375.60" x2="446.30" y2="375.60" stroke="#555" stroke-width="0.7" />
<circle cx="440" cy="375.6" r="1.8" fill="#fff" stroke="#333" stroke-width="0.7"/>
<text x="451.80" y="378.10" font-size="7.1" font-weight="bold" text-anchor="start" fill="#000" stroke="#000" stroke-width="0.3" >OVA-DCs</text>
<line x1="433.00" y1="384.50" x2="446.30" y2="384.50" stroke="#555" stroke-width="0.7" />
<path d="M437.7 382.9 L442.3 382.9 L440 386.8 Z" fill="#000"/>
<text x="451.80" y="387.00" font-size="7.1" font-weight="bold" text-anchor="start" fill="#000" stroke="#000" stroke-width="0.3" >OVA-eGFP-DCs</text>
<line x1="433.00" y1="393.30" x2="446.30" y2="393.30" stroke="#555" stroke-width="0.7" />
<path d="M440 391.1 L437.8 394.90000000000003 L442.2 394.90000000000003 Z" fill="#fff" stroke="#333" stroke-width="0.6"/>
<text x="451.80" y="395.80" font-size="7.1" font-weight="bold" text-anchor="start" fill="#000" stroke="#000" stroke-width="0.3" >OVA-IL-10-DCs</text>
</g>
</svg>
</body></html>
